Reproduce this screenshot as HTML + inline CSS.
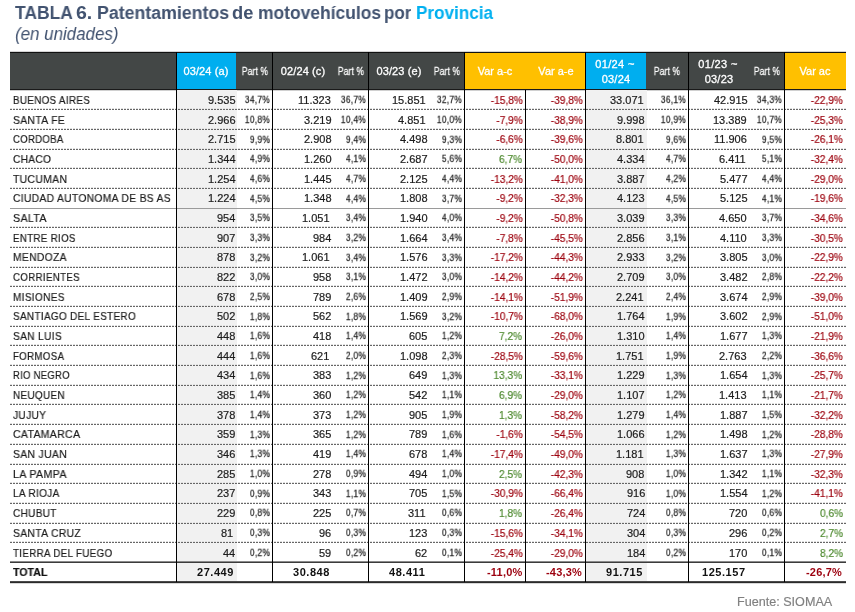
<!DOCTYPE html>
<html><head><meta charset="utf-8"><style>
html,body{margin:0;padding:0;background:#fff;width:855px;height:612px;overflow:hidden;position:relative}
.b{position:absolute}
.t{position:absolute;will-change:transform;white-space:nowrap;font-family:"Liberation Sans",sans-serif}
</style></head><body>
<div class="b" style="left:10px;top:52px;width:836px;height:38px;background:#434746;"></div>
<div class="b" style="left:177px;top:53px;width:59px;height:36px;background:#00aeef;"></div>
<div class="b" style="left:586px;top:53px;width:60px;height:36px;background:#00aeef;"></div>
<div class="b" style="left:465px;top:53px;width:120px;height:36px;background:#ffc000;"></div>
<div class="b" style="left:785px;top:53px;width:61px;height:36px;background:#ffc000;"></div>
<div class="b" style="left:10px;top:52px;width:836px;height:1px;background:#111;"></div>
<div class="b" style="left:10px;top:89px;width:836px;height:1px;background:#1a1a1a;"></div>
<div class="b" style="left:10px;top:51px;width:836px;height:1px;background:#d4d4d4;"></div>
<div class="b" style="left:10px;top:90px;width:836px;height:1px;background:#d0d0d0;"></div>
<div class="b" style="left:177px;top:90px;width:60px;height:491px;background:#f1f1f1;"></div>
<div class="b" style="left:586px;top:90px;width:61px;height:491px;background:#f1f1f1;"></div>
<div class="b" style="left:10px;top:109px;width:836px;height:1px;background:repeating-linear-gradient(90deg,#666 0 1.7px,transparent 1.7px 3px);"></div>
<div class="b" style="left:10px;top:108px;width:836px;height:1px;background:repeating-linear-gradient(90deg,#e0e0e0 0 1.7px,transparent 1.7px 3px);"></div>
<div class="b" style="left:10px;top:129px;width:836px;height:1px;background:repeating-linear-gradient(90deg,#666 0 1.7px,transparent 1.7px 3px);"></div>
<div class="b" style="left:10px;top:128px;width:836px;height:1px;background:repeating-linear-gradient(90deg,#e0e0e0 0 1.7px,transparent 1.7px 3px);"></div>
<div class="b" style="left:10px;top:149px;width:836px;height:1px;background:repeating-linear-gradient(90deg,#666 0 1.7px,transparent 1.7px 3px);"></div>
<div class="b" style="left:10px;top:148px;width:836px;height:1px;background:repeating-linear-gradient(90deg,#e0e0e0 0 1.7px,transparent 1.7px 3px);"></div>
<div class="b" style="left:10px;top:168px;width:836px;height:1px;background:repeating-linear-gradient(90deg,#666 0 1.7px,transparent 1.7px 3px);"></div>
<div class="b" style="left:10px;top:167px;width:836px;height:1px;background:repeating-linear-gradient(90deg,#e0e0e0 0 1.7px,transparent 1.7px 3px);"></div>
<div class="b" style="left:10px;top:188px;width:836px;height:1px;background:repeating-linear-gradient(90deg,#666 0 1.7px,transparent 1.7px 3px);"></div>
<div class="b" style="left:10px;top:187px;width:836px;height:1px;background:repeating-linear-gradient(90deg,#e0e0e0 0 1.7px,transparent 1.7px 3px);"></div>
<div class="b" style="left:10px;top:208px;width:836px;height:1px;background:#9a9a9a;"></div>
<div class="b" style="left:10px;top:227px;width:836px;height:1px;background:repeating-linear-gradient(90deg,#666 0 1.7px,transparent 1.7px 3px);"></div>
<div class="b" style="left:10px;top:226px;width:836px;height:1px;background:repeating-linear-gradient(90deg,#e0e0e0 0 1.7px,transparent 1.7px 3px);"></div>
<div class="b" style="left:10px;top:247px;width:836px;height:1px;background:repeating-linear-gradient(90deg,#666 0 1.7px,transparent 1.7px 3px);"></div>
<div class="b" style="left:10px;top:246px;width:836px;height:1px;background:repeating-linear-gradient(90deg,#e0e0e0 0 1.7px,transparent 1.7px 3px);"></div>
<div class="b" style="left:10px;top:267px;width:836px;height:1px;background:repeating-linear-gradient(90deg,#666 0 1.7px,transparent 1.7px 3px);"></div>
<div class="b" style="left:10px;top:266px;width:836px;height:1px;background:repeating-linear-gradient(90deg,#e0e0e0 0 1.7px,transparent 1.7px 3px);"></div>
<div class="b" style="left:10px;top:286px;width:836px;height:1px;background:repeating-linear-gradient(90deg,#666 0 1.7px,transparent 1.7px 3px);"></div>
<div class="b" style="left:10px;top:285px;width:836px;height:1px;background:repeating-linear-gradient(90deg,#e0e0e0 0 1.7px,transparent 1.7px 3px);"></div>
<div class="b" style="left:10px;top:306px;width:836px;height:1px;background:repeating-linear-gradient(90deg,#666 0 1.7px,transparent 1.7px 3px);"></div>
<div class="b" style="left:10px;top:305px;width:836px;height:1px;background:repeating-linear-gradient(90deg,#e0e0e0 0 1.7px,transparent 1.7px 3px);"></div>
<div class="b" style="left:10px;top:326px;width:836px;height:1px;background:repeating-linear-gradient(90deg,#666 0 1.7px,transparent 1.7px 3px);"></div>
<div class="b" style="left:10px;top:325px;width:836px;height:1px;background:repeating-linear-gradient(90deg,#e0e0e0 0 1.7px,transparent 1.7px 3px);"></div>
<div class="b" style="left:10px;top:345px;width:836px;height:1px;background:repeating-linear-gradient(90deg,#666 0 1.7px,transparent 1.7px 3px);"></div>
<div class="b" style="left:10px;top:344px;width:836px;height:1px;background:repeating-linear-gradient(90deg,#e0e0e0 0 1.7px,transparent 1.7px 3px);"></div>
<div class="b" style="left:10px;top:365px;width:836px;height:1px;background:repeating-linear-gradient(90deg,#666 0 1.7px,transparent 1.7px 3px);"></div>
<div class="b" style="left:10px;top:364px;width:836px;height:1px;background:repeating-linear-gradient(90deg,#e0e0e0 0 1.7px,transparent 1.7px 3px);"></div>
<div class="b" style="left:10px;top:385px;width:836px;height:1px;background:repeating-linear-gradient(90deg,#666 0 1.7px,transparent 1.7px 3px);"></div>
<div class="b" style="left:10px;top:384px;width:836px;height:1px;background:repeating-linear-gradient(90deg,#e0e0e0 0 1.7px,transparent 1.7px 3px);"></div>
<div class="b" style="left:10px;top:404px;width:836px;height:1px;background:repeating-linear-gradient(90deg,#666 0 1.7px,transparent 1.7px 3px);"></div>
<div class="b" style="left:10px;top:403px;width:836px;height:1px;background:repeating-linear-gradient(90deg,#e0e0e0 0 1.7px,transparent 1.7px 3px);"></div>
<div class="b" style="left:10px;top:424px;width:836px;height:1px;background:repeating-linear-gradient(90deg,#666 0 1.7px,transparent 1.7px 3px);"></div>
<div class="b" style="left:10px;top:423px;width:836px;height:1px;background:repeating-linear-gradient(90deg,#e0e0e0 0 1.7px,transparent 1.7px 3px);"></div>
<div class="b" style="left:10px;top:444px;width:836px;height:1px;background:repeating-linear-gradient(90deg,#666 0 1.7px,transparent 1.7px 3px);"></div>
<div class="b" style="left:10px;top:443px;width:836px;height:1px;background:repeating-linear-gradient(90deg,#e0e0e0 0 1.7px,transparent 1.7px 3px);"></div>
<div class="b" style="left:10px;top:464px;width:836px;height:1px;background:repeating-linear-gradient(90deg,#666 0 1.7px,transparent 1.7px 3px);"></div>
<div class="b" style="left:10px;top:463px;width:836px;height:1px;background:repeating-linear-gradient(90deg,#e0e0e0 0 1.7px,transparent 1.7px 3px);"></div>
<div class="b" style="left:10px;top:483px;width:836px;height:1px;background:repeating-linear-gradient(90deg,#666 0 1.7px,transparent 1.7px 3px);"></div>
<div class="b" style="left:10px;top:482px;width:836px;height:1px;background:repeating-linear-gradient(90deg,#e0e0e0 0 1.7px,transparent 1.7px 3px);"></div>
<div class="b" style="left:10px;top:503px;width:836px;height:1px;background:repeating-linear-gradient(90deg,#666 0 1.7px,transparent 1.7px 3px);"></div>
<div class="b" style="left:10px;top:502px;width:836px;height:1px;background:repeating-linear-gradient(90deg,#e0e0e0 0 1.7px,transparent 1.7px 3px);"></div>
<div class="b" style="left:10px;top:523px;width:836px;height:1px;background:repeating-linear-gradient(90deg,#666 0 1.7px,transparent 1.7px 3px);"></div>
<div class="b" style="left:10px;top:522px;width:836px;height:1px;background:repeating-linear-gradient(90deg,#e0e0e0 0 1.7px,transparent 1.7px 3px);"></div>
<div class="b" style="left:10px;top:542px;width:836px;height:1px;background:repeating-linear-gradient(90deg,#666 0 1.7px,transparent 1.7px 3px);"></div>
<div class="b" style="left:10px;top:541px;width:836px;height:1px;background:repeating-linear-gradient(90deg,#e0e0e0 0 1.7px,transparent 1.7px 3px);"></div>
<div class="b" style="left:10px;top:561px;width:836px;height:1px;background:#8a8a8a;"></div>
<div class="b" style="left:10px;top:562px;width:836px;height:1px;background:#3c3c3c;"></div>
<div class="b" style="left:10px;top:581px;width:836px;height:1px;background:#4a4a4a;"></div>
<div class="b" style="left:10px;top:582px;width:836px;height:1px;background:#2a2a2a;"></div>
<div class="b" style="left:10px;top:583px;width:836px;height:1px;background:#d8d8d8;"></div>
<div class="b" style="left:176px;top:52px;width:1px;height:530px;background:#000;"></div>
<div class="b" style="left:272px;top:52px;width:1px;height:530px;background:#000;"></div>
<div class="b" style="left:368px;top:52px;width:1px;height:530px;background:#000;"></div>
<div class="b" style="left:464px;top:52px;width:1px;height:530px;background:#000;"></div>
<div class="b" style="left:585px;top:52px;width:1px;height:530px;background:#000;"></div>
<div class="b" style="left:688px;top:52px;width:1px;height:530px;background:#000;"></div>
<div class="b" style="left:784px;top:52px;width:1px;height:530px;background:#000;"></div>
<div class="b" style="left:525px;top:90px;width:1px;height:492px;background:#000;"></div>
<div class="t" style="left:15.2px;top:3.11px;font-size:18px;line-height:20.70px;color:#425370;font-weight:bold;font-style:normal;letter-spacing:0px;transform:scaleX(0.968);transform-origin:left 0;">TABLA</div>
<div class="t" style="left:76.415px;top:3.11px;font-size:18px;line-height:20.70px;color:#425370;font-weight:bold;font-style:normal;letter-spacing:0px;transform:scaleX(1.085);transform-origin:left 0;">6.</div>
<div class="t" style="left:97.014px;top:3.11px;font-size:18px;line-height:20.70px;color:#425370;font-weight:bold;font-style:normal;letter-spacing:0px;transform:scaleX(0.986);transform-origin:left 0;">Patentamientos</div>
<div class="t" style="left:232.484px;top:3.11px;font-size:18px;line-height:20.70px;color:#425370;font-weight:bold;font-style:normal;letter-spacing:0px;transform:scaleX(1.016);transform-origin:left 0;">de</div>
<div class="t" style="left:257.531px;top:3.11px;font-size:18px;line-height:20.70px;color:#425370;font-weight:bold;font-style:normal;letter-spacing:0px;transform:scaleX(0.969);transform-origin:left 0;">motovehículos</div>
<div class="t" style="left:383.957px;top:3.11px;font-size:18px;line-height:20.70px;color:#425370;font-weight:bold;font-style:normal;letter-spacing:0px;transform:scaleX(0.943);transform-origin:left 0;">por</div>
<div class="t" style="left:415.649px;top:3.11px;font-size:18px;line-height:20.70px;color:#00b0f0;font-weight:bold;font-style:normal;letter-spacing:0px;transform:scaleX(0.951);transform-origin:left 0;">Provincia</div>
<div class="t" style="left:15px;top:22.3px;font-size:18.6px;font-style:italic;color:#425370;line-height:24px;transform:scaleX(0.91);transform-origin:left 0">(en unidades)</div>
<div class="t" style="left:6.199999999999989px;width:400px;text-align:center;top:65.36px;font-size:11px;line-height:12.65px;color:#ffffff;font-weight:normal;font-style:normal;letter-spacing:0.1px;-webkit-text-stroke:0.3px #ffffff;">03/24 (a)</div>
<div class="t" style="left:54.599999999999994px;width:400px;text-align:center;top:66.28px;font-size:10px;line-height:11.50px;color:#ffffff;font-weight:normal;font-style:normal;letter-spacing:0.25px;transform:scaleX(0.835);transform-origin:center 0;-webkit-text-stroke:0.3px #ffffff;">Part %</div>
<div class="t" style="left:102.5px;width:400px;text-align:center;top:65.36px;font-size:11px;line-height:12.65px;color:#ffffff;font-weight:normal;font-style:normal;letter-spacing:0.1px;-webkit-text-stroke:0.3px #ffffff;">02/24 (c)</div>
<div class="t" style="left:150.60000000000002px;width:400px;text-align:center;top:66.28px;font-size:10px;line-height:11.50px;color:#ffffff;font-weight:normal;font-style:normal;letter-spacing:0.25px;transform:scaleX(0.835);transform-origin:center 0;-webkit-text-stroke:0.3px #ffffff;">Part %</div>
<div class="t" style="left:198.5px;width:400px;text-align:center;top:65.36px;font-size:11px;line-height:12.65px;color:#ffffff;font-weight:normal;font-style:normal;letter-spacing:0.1px;-webkit-text-stroke:0.3px #ffffff;">03/23 (e)</div>
<div class="t" style="left:246.60000000000002px;width:400px;text-align:center;top:66.28px;font-size:10px;line-height:11.50px;color:#ffffff;font-weight:normal;font-style:normal;letter-spacing:0.25px;transform:scaleX(0.835);transform-origin:center 0;-webkit-text-stroke:0.3px #ffffff;">Part %</div>
<div class="t" style="left:294.6px;width:400px;text-align:center;top:65.36px;font-size:11px;line-height:12.65px;color:#ffffff;font-weight:normal;font-style:normal;letter-spacing:0px;-webkit-text-stroke:0.3px #ffffff;">Var a-c</div>
<div class="t" style="left:355.5px;width:400px;text-align:center;top:65.36px;font-size:11px;line-height:12.65px;color:#ffffff;font-weight:normal;font-style:normal;letter-spacing:0px;-webkit-text-stroke:0.3px #ffffff;">Var a-e</div>
<div class="t" style="left:415.20000000000005px;width:400px;text-align:center;top:57.76px;font-size:11px;line-height:12.65px;color:#ffffff;font-weight:normal;font-style:normal;letter-spacing:0.35px;-webkit-text-stroke:0.3px #ffffff;">01/24 ~</div>
<div class="t" style="left:415.70000000000005px;width:400px;text-align:center;top:72.76px;font-size:11px;line-height:12.65px;color:#ffffff;font-weight:normal;font-style:normal;letter-spacing:0.2px;-webkit-text-stroke:0.3px #ffffff;">03/24</div>
<div class="t" style="left:466.5px;width:400px;text-align:center;top:66.28px;font-size:10px;line-height:11.50px;color:#ffffff;font-weight:normal;font-style:normal;letter-spacing:0.25px;transform:scaleX(0.835);transform-origin:center 0;-webkit-text-stroke:0.3px #ffffff;">Part %</div>
<div class="t" style="left:518.2px;width:400px;text-align:center;top:57.76px;font-size:11px;line-height:12.65px;color:#ffffff;font-weight:normal;font-style:normal;letter-spacing:0.35px;-webkit-text-stroke:0.3px #ffffff;">01/23 ~</div>
<div class="t" style="left:518.5px;width:400px;text-align:center;top:72.76px;font-size:11px;line-height:12.65px;color:#ffffff;font-weight:normal;font-style:normal;letter-spacing:0.2px;-webkit-text-stroke:0.3px #ffffff;">03/23</div>
<div class="t" style="left:566.6px;width:400px;text-align:center;top:66.28px;font-size:10px;line-height:11.50px;color:#ffffff;font-weight:normal;font-style:normal;letter-spacing:0.25px;transform:scaleX(0.835);transform-origin:center 0;-webkit-text-stroke:0.3px #ffffff;">Part %</div>
<div class="t" style="left:614.8px;width:400px;text-align:center;top:65.36px;font-size:11px;line-height:12.65px;color:#ffffff;font-weight:normal;font-style:normal;letter-spacing:0px;-webkit-text-stroke:0.3px #ffffff;">Var ac</div>
<div class="t" style="left:12.7px;top:93.86px;font-size:11px;line-height:12.65px;color:#1c1c1c;font-weight:normal;font-style:normal;letter-spacing:0.35px;transform:scaleX(0.895);transform-origin:left 0;-webkit-text-stroke:0.2px #1c1c1c;">BUENOS AIRES</div>
<div class="t" style="right:619.78px;top:93.86px;font-size:11px;line-height:12.65px;color:#1c1c1c;font-weight:normal;font-style:normal;letter-spacing:0px;-webkit-text-stroke:0.2px #1c1c1c;">9.535</div>
<div class="t" style="right:584.9px;top:94.19px;font-size:10px;line-height:11.50px;color:#1c1c1c;font-weight:normal;font-style:normal;letter-spacing:0.35px;transform:scale(0.84,0.92);transform-origin:right 9.21px;-webkit-text-stroke:0.25px #1c1c1c;">34,7%</div>
<div class="t" style="right:523.78px;top:93.86px;font-size:11px;line-height:12.65px;color:#1c1c1c;font-weight:normal;font-style:normal;letter-spacing:0px;-webkit-text-stroke:0.2px #1c1c1c;">11.323</div>
<div class="t" style="right:488.9px;top:94.19px;font-size:10px;line-height:11.50px;color:#1c1c1c;font-weight:normal;font-style:normal;letter-spacing:0.35px;transform:scale(0.84,0.92);transform-origin:right 9.21px;-webkit-text-stroke:0.25px #1c1c1c;">36,7%</div>
<div class="t" style="right:429.17999999999995px;top:93.86px;font-size:11px;line-height:12.65px;color:#1c1c1c;font-weight:normal;font-style:normal;letter-spacing:0px;-webkit-text-stroke:0.2px #1c1c1c;">15.851</div>
<div class="t" style="right:392.9px;top:94.19px;font-size:10px;line-height:11.50px;color:#1c1c1c;font-weight:normal;font-style:normal;letter-spacing:0.35px;transform:scale(0.84,0.92);transform-origin:right 9.21px;-webkit-text-stroke:0.25px #1c1c1c;">32,7%</div>
<div class="t" style="right:332.6px;top:93.86px;font-size:11px;line-height:12.65px;color:#9c000e;font-weight:normal;font-style:normal;letter-spacing:0px;transform:scaleX(0.92);transform-origin:right 0;-webkit-text-stroke:0.2px #9c000e;">-15,8%</div>
<div class="t" style="right:271.79999999999995px;top:93.86px;font-size:11px;line-height:12.65px;color:#9c000e;font-weight:normal;font-style:normal;letter-spacing:0px;transform:scaleX(0.92);transform-origin:right 0;-webkit-text-stroke:0.2px #9c000e;">-39,8%</div>
<div class="t" style="right:211.83000000000004px;top:93.86px;font-size:11px;line-height:12.65px;color:#1c1c1c;font-weight:normal;font-style:normal;letter-spacing:0px;-webkit-text-stroke:0.2px #1c1c1c;">33.071</div>
<div class="t" style="right:168.5px;top:94.19px;font-size:10px;line-height:11.50px;color:#1c1c1c;font-weight:normal;font-style:normal;letter-spacing:0.35px;transform:scale(0.84,0.92);transform-origin:right 9.21px;-webkit-text-stroke:0.25px #1c1c1c;">36,1%</div>
<div class="t" style="right:107.77999999999997px;top:93.86px;font-size:11px;line-height:12.65px;color:#1c1c1c;font-weight:normal;font-style:normal;letter-spacing:0px;-webkit-text-stroke:0.2px #1c1c1c;">42.915</div>
<div class="t" style="right:72.5px;top:94.19px;font-size:10px;line-height:11.50px;color:#1c1c1c;font-weight:normal;font-style:normal;letter-spacing:0.35px;transform:scale(0.84,0.92);transform-origin:right 9.21px;-webkit-text-stroke:0.25px #1c1c1c;">34,3%</div>
<div class="t" style="right:11.799999999999955px;top:93.86px;font-size:11px;line-height:12.65px;color:#9c000e;font-weight:normal;font-style:normal;letter-spacing:0px;transform:scaleX(0.92);transform-origin:right 0;-webkit-text-stroke:0.2px #9c000e;">-22,9%</div>
<div class="t" style="left:12.7px;top:113.54px;font-size:11px;line-height:12.65px;color:#1c1c1c;font-weight:normal;font-style:normal;letter-spacing:0.35px;transform:scaleX(0.942);transform-origin:left 0;-webkit-text-stroke:0.2px #1c1c1c;">SANTA FE</div>
<div class="t" style="right:619.85px;top:113.54px;font-size:11px;line-height:12.65px;color:#1c1c1c;font-weight:normal;font-style:normal;letter-spacing:0px;-webkit-text-stroke:0.2px #1c1c1c;">2.966</div>
<div class="t" style="right:584.9px;top:113.87px;font-size:10px;line-height:11.50px;color:#1c1c1c;font-weight:normal;font-style:normal;letter-spacing:0.35px;transform:scale(0.84,0.92);transform-origin:right 9.21px;-webkit-text-stroke:0.25px #1c1c1c;">10,8%</div>
<div class="t" style="right:523.76px;top:113.54px;font-size:11px;line-height:12.65px;color:#1c1c1c;font-weight:normal;font-style:normal;letter-spacing:0px;-webkit-text-stroke:0.2px #1c1c1c;">3.219</div>
<div class="t" style="right:488.9px;top:113.87px;font-size:10px;line-height:11.50px;color:#1c1c1c;font-weight:normal;font-style:normal;letter-spacing:0.35px;transform:scale(0.84,0.92);transform-origin:right 9.21px;-webkit-text-stroke:0.25px #1c1c1c;">10,4%</div>
<div class="t" style="right:429.17999999999995px;top:113.54px;font-size:11px;line-height:12.65px;color:#1c1c1c;font-weight:normal;font-style:normal;letter-spacing:0px;-webkit-text-stroke:0.2px #1c1c1c;">4.851</div>
<div class="t" style="right:392.9px;top:113.87px;font-size:10px;line-height:11.50px;color:#1c1c1c;font-weight:normal;font-style:normal;letter-spacing:0.35px;transform:scale(0.84,0.92);transform-origin:right 9.21px;-webkit-text-stroke:0.25px #1c1c1c;">10,0%</div>
<div class="t" style="right:332.6px;top:113.54px;font-size:11px;line-height:12.65px;color:#9c000e;font-weight:normal;font-style:normal;letter-spacing:0px;transform:scaleX(0.92);transform-origin:right 0;-webkit-text-stroke:0.2px #9c000e;">-7,9%</div>
<div class="t" style="right:271.79999999999995px;top:113.54px;font-size:11px;line-height:12.65px;color:#9c000e;font-weight:normal;font-style:normal;letter-spacing:0px;transform:scaleX(0.92);transform-origin:right 0;-webkit-text-stroke:0.2px #9c000e;">-38,9%</div>
<div class="t" style="right:210.22000000000003px;top:113.54px;font-size:11px;line-height:12.65px;color:#1c1c1c;font-weight:normal;font-style:normal;letter-spacing:0px;-webkit-text-stroke:0.2px #1c1c1c;">9.998</div>
<div class="t" style="right:168.5px;top:113.87px;font-size:10px;line-height:11.50px;color:#1c1c1c;font-weight:normal;font-style:normal;letter-spacing:0.35px;transform:scale(0.84,0.92);transform-origin:right 9.21px;-webkit-text-stroke:0.25px #1c1c1c;">10,9%</div>
<div class="t" style="right:108.00999999999999px;top:113.54px;font-size:11px;line-height:12.65px;color:#1c1c1c;font-weight:normal;font-style:normal;letter-spacing:0px;-webkit-text-stroke:0.2px #1c1c1c;">13.389</div>
<div class="t" style="right:72.5px;top:113.87px;font-size:10px;line-height:11.50px;color:#1c1c1c;font-weight:normal;font-style:normal;letter-spacing:0.35px;transform:scale(0.84,0.92);transform-origin:right 9.21px;-webkit-text-stroke:0.25px #1c1c1c;">10,7%</div>
<div class="t" style="right:11.799999999999955px;top:113.54px;font-size:11px;line-height:12.65px;color:#9c000e;font-weight:normal;font-style:normal;letter-spacing:0px;transform:scaleX(0.92);transform-origin:right 0;-webkit-text-stroke:0.2px #9c000e;">-25,3%</div>
<div class="t" style="left:12.7px;top:133.22px;font-size:11px;line-height:12.65px;color:#1c1c1c;font-weight:normal;font-style:normal;letter-spacing:0.35px;transform:scaleX(0.869);transform-origin:left 0;-webkit-text-stroke:0.2px #1c1c1c;">CORDOBA</div>
<div class="t" style="right:619.78px;top:133.22px;font-size:11px;line-height:12.65px;color:#1c1c1c;font-weight:normal;font-style:normal;letter-spacing:0px;-webkit-text-stroke:0.2px #1c1c1c;">2.715</div>
<div class="t" style="right:584.9px;top:133.55px;font-size:10px;line-height:11.50px;color:#1c1c1c;font-weight:normal;font-style:normal;letter-spacing:0.35px;transform:scale(0.84,0.92);transform-origin:right 9.21px;-webkit-text-stroke:0.25px #1c1c1c;">9,9%</div>
<div class="t" style="right:523.6700000000001px;top:133.22px;font-size:11px;line-height:12.65px;color:#1c1c1c;font-weight:normal;font-style:normal;letter-spacing:0px;-webkit-text-stroke:0.2px #1c1c1c;">2.908</div>
<div class="t" style="right:488.9px;top:133.55px;font-size:10px;line-height:11.50px;color:#1c1c1c;font-weight:normal;font-style:normal;letter-spacing:0.35px;transform:scale(0.84,0.92);transform-origin:right 9.21px;-webkit-text-stroke:0.25px #1c1c1c;">9,4%</div>
<div class="t" style="right:427.57px;top:133.22px;font-size:11px;line-height:12.65px;color:#1c1c1c;font-weight:normal;font-style:normal;letter-spacing:0px;-webkit-text-stroke:0.2px #1c1c1c;">4.498</div>
<div class="t" style="right:392.9px;top:133.55px;font-size:10px;line-height:11.50px;color:#1c1c1c;font-weight:normal;font-style:normal;letter-spacing:0.35px;transform:scale(0.84,0.92);transform-origin:right 9.21px;-webkit-text-stroke:0.25px #1c1c1c;">9,3%</div>
<div class="t" style="right:332.6px;top:133.22px;font-size:11px;line-height:12.65px;color:#9c000e;font-weight:normal;font-style:normal;letter-spacing:0px;transform:scaleX(0.92);transform-origin:right 0;-webkit-text-stroke:0.2px #9c000e;">-6,6%</div>
<div class="t" style="right:271.79999999999995px;top:133.22px;font-size:11px;line-height:12.65px;color:#9c000e;font-weight:normal;font-style:normal;letter-spacing:0px;transform:scaleX(0.92);transform-origin:right 0;-webkit-text-stroke:0.2px #9c000e;">-39,6%</div>
<div class="t" style="right:211.83000000000004px;top:133.22px;font-size:11px;line-height:12.65px;color:#1c1c1c;font-weight:normal;font-style:normal;letter-spacing:0px;-webkit-text-stroke:0.2px #1c1c1c;">8.801</div>
<div class="t" style="right:168.5px;top:133.55px;font-size:10px;line-height:11.50px;color:#1c1c1c;font-weight:normal;font-style:normal;letter-spacing:0.35px;transform:scale(0.84,0.92);transform-origin:right 9.21px;-webkit-text-stroke:0.25px #1c1c1c;">9,6%</div>
<div class="t" style="right:107.84999999999991px;top:133.22px;font-size:11px;line-height:12.65px;color:#1c1c1c;font-weight:normal;font-style:normal;letter-spacing:0px;-webkit-text-stroke:0.2px #1c1c1c;">11.906</div>
<div class="t" style="right:72.5px;top:133.55px;font-size:10px;line-height:11.50px;color:#1c1c1c;font-weight:normal;font-style:normal;letter-spacing:0.35px;transform:scale(0.84,0.92);transform-origin:right 9.21px;-webkit-text-stroke:0.25px #1c1c1c;">9,5%</div>
<div class="t" style="right:11.799999999999955px;top:133.22px;font-size:11px;line-height:12.65px;color:#9c000e;font-weight:normal;font-style:normal;letter-spacing:0px;transform:scaleX(0.92);transform-origin:right 0;-webkit-text-stroke:0.2px #9c000e;">-26,1%</div>
<div class="t" style="left:12.7px;top:152.90px;font-size:11px;line-height:12.65px;color:#1c1c1c;font-weight:normal;font-style:normal;letter-spacing:0.35px;transform:scaleX(0.924);transform-origin:left 0;-webkit-text-stroke:0.2px #1c1c1c;">CHACO</div>
<div class="t" style="right:619.73px;top:152.90px;font-size:11px;line-height:12.65px;color:#1c1c1c;font-weight:normal;font-style:normal;letter-spacing:0px;-webkit-text-stroke:0.2px #1c1c1c;">1.344</div>
<div class="t" style="right:584.9px;top:153.22px;font-size:10px;line-height:11.50px;color:#1c1c1c;font-weight:normal;font-style:normal;letter-spacing:0.35px;transform:scale(0.84,0.92);transform-origin:right 9.21px;-webkit-text-stroke:0.25px #1c1c1c;">4,9%</div>
<div class="t" style="right:523.74px;top:152.90px;font-size:11px;line-height:12.65px;color:#1c1c1c;font-weight:normal;font-style:normal;letter-spacing:0px;-webkit-text-stroke:0.2px #1c1c1c;">1.260</div>
<div class="t" style="right:488.9px;top:153.22px;font-size:10px;line-height:11.50px;color:#1c1c1c;font-weight:normal;font-style:normal;letter-spacing:0.35px;transform:scale(0.84,0.92);transform-origin:right 9.21px;-webkit-text-stroke:0.25px #1c1c1c;">4,1%</div>
<div class="t" style="right:427.38px;top:152.90px;font-size:11px;line-height:12.65px;color:#1c1c1c;font-weight:normal;font-style:normal;letter-spacing:0px;-webkit-text-stroke:0.2px #1c1c1c;">2.687</div>
<div class="t" style="right:392.9px;top:153.22px;font-size:10px;line-height:11.50px;color:#1c1c1c;font-weight:normal;font-style:normal;letter-spacing:0.35px;transform:scale(0.84,0.92);transform-origin:right 9.21px;-webkit-text-stroke:0.25px #1c1c1c;">5,6%</div>
<div class="t" style="right:332.6px;top:152.90px;font-size:11px;line-height:12.65px;color:#4f8a30;font-weight:normal;font-style:normal;letter-spacing:0px;transform:scaleX(0.92);transform-origin:right 0;-webkit-text-stroke:0.2px #4f8a30;">6,7%</div>
<div class="t" style="right:271.79999999999995px;top:152.90px;font-size:11px;line-height:12.65px;color:#9c000e;font-weight:normal;font-style:normal;letter-spacing:0px;transform:scaleX(0.92);transform-origin:right 0;-webkit-text-stroke:0.2px #9c000e;">-50,0%</div>
<div class="t" style="right:210.02999999999997px;top:152.90px;font-size:11px;line-height:12.65px;color:#1c1c1c;font-weight:normal;font-style:normal;letter-spacing:0px;-webkit-text-stroke:0.2px #1c1c1c;">4.334</div>
<div class="t" style="right:168.5px;top:153.22px;font-size:10px;line-height:11.50px;color:#1c1c1c;font-weight:normal;font-style:normal;letter-spacing:0.35px;transform:scale(0.84,0.92);transform-origin:right 9.21px;-webkit-text-stroke:0.25px #1c1c1c;">4,7%</div>
<div class="t" style="right:109.52999999999997px;top:152.90px;font-size:11px;line-height:12.65px;color:#1c1c1c;font-weight:normal;font-style:normal;letter-spacing:0px;-webkit-text-stroke:0.2px #1c1c1c;">6.411</div>
<div class="t" style="right:72.5px;top:153.22px;font-size:10px;line-height:11.50px;color:#1c1c1c;font-weight:normal;font-style:normal;letter-spacing:0.35px;transform:scale(0.84,0.92);transform-origin:right 9.21px;-webkit-text-stroke:0.25px #1c1c1c;">5,1%</div>
<div class="t" style="right:11.799999999999955px;top:152.90px;font-size:11px;line-height:12.65px;color:#9c000e;font-weight:normal;font-style:normal;letter-spacing:0px;transform:scaleX(0.92);transform-origin:right 0;-webkit-text-stroke:0.2px #9c000e;">-32,4%</div>
<div class="t" style="left:12.7px;top:172.58px;font-size:11px;line-height:12.65px;color:#1c1c1c;font-weight:normal;font-style:normal;letter-spacing:0.35px;transform:scaleX(0.944);transform-origin:left 0;-webkit-text-stroke:0.2px #1c1c1c;">TUCUMAN</div>
<div class="t" style="right:619.73px;top:172.58px;font-size:11px;line-height:12.65px;color:#1c1c1c;font-weight:normal;font-style:normal;letter-spacing:0px;-webkit-text-stroke:0.2px #1c1c1c;">1.254</div>
<div class="t" style="right:584.9px;top:172.91px;font-size:10px;line-height:11.50px;color:#1c1c1c;font-weight:normal;font-style:normal;letter-spacing:0.35px;transform:scale(0.84,0.92);transform-origin:right 9.21px;-webkit-text-stroke:0.25px #1c1c1c;">4,6%</div>
<div class="t" style="right:523.53px;top:172.58px;font-size:11px;line-height:12.65px;color:#1c1c1c;font-weight:normal;font-style:normal;letter-spacing:0px;-webkit-text-stroke:0.2px #1c1c1c;">1.445</div>
<div class="t" style="right:488.9px;top:172.91px;font-size:10px;line-height:11.50px;color:#1c1c1c;font-weight:normal;font-style:normal;letter-spacing:0.35px;transform:scale(0.84,0.92);transform-origin:right 9.21px;-webkit-text-stroke:0.25px #1c1c1c;">4,7%</div>
<div class="t" style="right:427.43px;top:172.58px;font-size:11px;line-height:12.65px;color:#1c1c1c;font-weight:normal;font-style:normal;letter-spacing:0px;-webkit-text-stroke:0.2px #1c1c1c;">2.125</div>
<div class="t" style="right:392.9px;top:172.91px;font-size:10px;line-height:11.50px;color:#1c1c1c;font-weight:normal;font-style:normal;letter-spacing:0.35px;transform:scale(0.84,0.92);transform-origin:right 9.21px;-webkit-text-stroke:0.25px #1c1c1c;">4,4%</div>
<div class="t" style="right:332.6px;top:172.58px;font-size:11px;line-height:12.65px;color:#9c000e;font-weight:normal;font-style:normal;letter-spacing:0px;transform:scaleX(0.92);transform-origin:right 0;-webkit-text-stroke:0.2px #9c000e;">-13,2%</div>
<div class="t" style="right:271.79999999999995px;top:172.58px;font-size:11px;line-height:12.65px;color:#9c000e;font-weight:normal;font-style:normal;letter-spacing:0px;transform:scaleX(0.92);transform-origin:right 0;-webkit-text-stroke:0.2px #9c000e;">-41,0%</div>
<div class="t" style="right:210.0300000000001px;top:172.58px;font-size:11px;line-height:12.65px;color:#1c1c1c;font-weight:normal;font-style:normal;letter-spacing:0px;-webkit-text-stroke:0.2px #1c1c1c;">3.887</div>
<div class="t" style="right:168.5px;top:172.91px;font-size:10px;line-height:11.50px;color:#1c1c1c;font-weight:normal;font-style:normal;letter-spacing:0.35px;transform:scale(0.84,0.92);transform-origin:right 9.21px;-webkit-text-stroke:0.25px #1c1c1c;">4,2%</div>
<div class="t" style="right:107.73000000000002px;top:172.58px;font-size:11px;line-height:12.65px;color:#1c1c1c;font-weight:normal;font-style:normal;letter-spacing:0px;-webkit-text-stroke:0.2px #1c1c1c;">5.477</div>
<div class="t" style="right:72.5px;top:172.91px;font-size:10px;line-height:11.50px;color:#1c1c1c;font-weight:normal;font-style:normal;letter-spacing:0.35px;transform:scale(0.84,0.92);transform-origin:right 9.21px;-webkit-text-stroke:0.25px #1c1c1c;">4,4%</div>
<div class="t" style="right:11.799999999999955px;top:172.58px;font-size:11px;line-height:12.65px;color:#9c000e;font-weight:normal;font-style:normal;letter-spacing:0px;transform:scaleX(0.92);transform-origin:right 0;-webkit-text-stroke:0.2px #9c000e;">-29,0%</div>
<div class="t" style="left:12.7px;top:192.26px;font-size:11px;line-height:12.65px;color:#1c1c1c;font-weight:normal;font-style:normal;letter-spacing:0.35px;transform:scaleX(0.935);transform-origin:left 0;-webkit-text-stroke:0.2px #1c1c1c;">CIUDAD AUTONOMA DE BS AS</div>
<div class="t" style="right:619.73px;top:192.26px;font-size:11px;line-height:12.65px;color:#1c1c1c;font-weight:normal;font-style:normal;letter-spacing:0px;-webkit-text-stroke:0.2px #1c1c1c;">1.224</div>
<div class="t" style="right:584.9px;top:192.59px;font-size:10px;line-height:11.50px;color:#1c1c1c;font-weight:normal;font-style:normal;letter-spacing:0.35px;transform:scale(0.84,0.92);transform-origin:right 9.21px;-webkit-text-stroke:0.25px #1c1c1c;">4,5%</div>
<div class="t" style="right:523.6700000000001px;top:192.26px;font-size:11px;line-height:12.65px;color:#1c1c1c;font-weight:normal;font-style:normal;letter-spacing:0px;-webkit-text-stroke:0.2px #1c1c1c;">1.348</div>
<div class="t" style="right:488.9px;top:192.59px;font-size:10px;line-height:11.50px;color:#1c1c1c;font-weight:normal;font-style:normal;letter-spacing:0.35px;transform:scale(0.84,0.92);transform-origin:right 9.21px;-webkit-text-stroke:0.25px #1c1c1c;">4,4%</div>
<div class="t" style="right:427.57px;top:192.26px;font-size:11px;line-height:12.65px;color:#1c1c1c;font-weight:normal;font-style:normal;letter-spacing:0px;-webkit-text-stroke:0.2px #1c1c1c;">1.808</div>
<div class="t" style="right:392.9px;top:192.59px;font-size:10px;line-height:11.50px;color:#1c1c1c;font-weight:normal;font-style:normal;letter-spacing:0.35px;transform:scale(0.84,0.92);transform-origin:right 9.21px;-webkit-text-stroke:0.25px #1c1c1c;">3,7%</div>
<div class="t" style="right:332.6px;top:192.26px;font-size:11px;line-height:12.65px;color:#9c000e;font-weight:normal;font-style:normal;letter-spacing:0px;transform:scaleX(0.92);transform-origin:right 0;-webkit-text-stroke:0.2px #9c000e;">-9,2%</div>
<div class="t" style="right:271.79999999999995px;top:192.26px;font-size:11px;line-height:12.65px;color:#9c000e;font-weight:normal;font-style:normal;letter-spacing:0px;transform:scaleX(0.92);transform-origin:right 0;-webkit-text-stroke:0.2px #9c000e;">-32,3%</div>
<div class="t" style="right:210.33000000000004px;top:192.26px;font-size:11px;line-height:12.65px;color:#1c1c1c;font-weight:normal;font-style:normal;letter-spacing:0px;-webkit-text-stroke:0.2px #1c1c1c;">4.123</div>
<div class="t" style="right:168.5px;top:192.59px;font-size:10px;line-height:11.50px;color:#1c1c1c;font-weight:normal;font-style:normal;letter-spacing:0.35px;transform:scale(0.84,0.92);transform-origin:right 9.21px;-webkit-text-stroke:0.25px #1c1c1c;">4,5%</div>
<div class="t" style="right:107.77999999999997px;top:192.26px;font-size:11px;line-height:12.65px;color:#1c1c1c;font-weight:normal;font-style:normal;letter-spacing:0px;-webkit-text-stroke:0.2px #1c1c1c;">5.125</div>
<div class="t" style="right:72.5px;top:192.59px;font-size:10px;line-height:11.50px;color:#1c1c1c;font-weight:normal;font-style:normal;letter-spacing:0.35px;transform:scale(0.84,0.92);transform-origin:right 9.21px;-webkit-text-stroke:0.25px #1c1c1c;">4,1%</div>
<div class="t" style="right:11.799999999999955px;top:192.26px;font-size:11px;line-height:12.65px;color:#9c000e;font-weight:normal;font-style:normal;letter-spacing:0px;transform:scaleX(0.92);transform-origin:right 0;-webkit-text-stroke:0.2px #9c000e;">-19,6%</div>
<div class="t" style="left:12.7px;top:211.94px;font-size:11px;line-height:12.65px;color:#1c1c1c;font-weight:normal;font-style:normal;letter-spacing:0.35px;transform:scaleX(0.969);transform-origin:left 0;-webkit-text-stroke:0.2px #1c1c1c;">SALTA</div>
<div class="t" style="right:619.73px;top:211.94px;font-size:11px;line-height:12.65px;color:#1c1c1c;font-weight:normal;font-style:normal;letter-spacing:0px;-webkit-text-stroke:0.2px #1c1c1c;">954</div>
<div class="t" style="right:584.9px;top:212.26px;font-size:10px;line-height:11.50px;color:#1c1c1c;font-weight:normal;font-style:normal;letter-spacing:0.35px;transform:scale(0.84,0.92);transform-origin:right 9.21px;-webkit-text-stroke:0.25px #1c1c1c;">3,5%</div>
<div class="t" style="right:525.28px;top:211.94px;font-size:11px;line-height:12.65px;color:#1c1c1c;font-weight:normal;font-style:normal;letter-spacing:0px;-webkit-text-stroke:0.2px #1c1c1c;">1.051</div>
<div class="t" style="right:488.9px;top:212.26px;font-size:10px;line-height:11.50px;color:#1c1c1c;font-weight:normal;font-style:normal;letter-spacing:0.35px;transform:scale(0.84,0.92);transform-origin:right 9.21px;-webkit-text-stroke:0.25px #1c1c1c;">3,4%</div>
<div class="t" style="right:427.64px;top:211.94px;font-size:11px;line-height:12.65px;color:#1c1c1c;font-weight:normal;font-style:normal;letter-spacing:0px;-webkit-text-stroke:0.2px #1c1c1c;">1.940</div>
<div class="t" style="right:392.9px;top:212.26px;font-size:10px;line-height:11.50px;color:#1c1c1c;font-weight:normal;font-style:normal;letter-spacing:0.35px;transform:scale(0.84,0.92);transform-origin:right 9.21px;-webkit-text-stroke:0.25px #1c1c1c;">4,0%</div>
<div class="t" style="right:332.6px;top:211.94px;font-size:11px;line-height:12.65px;color:#9c000e;font-weight:normal;font-style:normal;letter-spacing:0px;transform:scaleX(0.92);transform-origin:right 0;-webkit-text-stroke:0.2px #9c000e;">-9,2%</div>
<div class="t" style="right:271.79999999999995px;top:211.94px;font-size:11px;line-height:12.65px;color:#9c000e;font-weight:normal;font-style:normal;letter-spacing:0px;transform:scaleX(0.92);transform-origin:right 0;-webkit-text-stroke:0.2px #9c000e;">-50,8%</div>
<div class="t" style="right:210.31000000000006px;top:211.94px;font-size:11px;line-height:12.65px;color:#1c1c1c;font-weight:normal;font-style:normal;letter-spacing:0px;-webkit-text-stroke:0.2px #1c1c1c;">3.039</div>
<div class="t" style="right:168.5px;top:212.26px;font-size:10px;line-height:11.50px;color:#1c1c1c;font-weight:normal;font-style:normal;letter-spacing:0.35px;transform:scale(0.84,0.92);transform-origin:right 9.21px;-webkit-text-stroke:0.25px #1c1c1c;">3,3%</div>
<div class="t" style="right:107.99000000000001px;top:211.94px;font-size:11px;line-height:12.65px;color:#1c1c1c;font-weight:normal;font-style:normal;letter-spacing:0px;-webkit-text-stroke:0.2px #1c1c1c;">4.650</div>
<div class="t" style="right:72.5px;top:212.26px;font-size:10px;line-height:11.50px;color:#1c1c1c;font-weight:normal;font-style:normal;letter-spacing:0.35px;transform:scale(0.84,0.92);transform-origin:right 9.21px;-webkit-text-stroke:0.25px #1c1c1c;">3,7%</div>
<div class="t" style="right:11.799999999999955px;top:211.94px;font-size:11px;line-height:12.65px;color:#9c000e;font-weight:normal;font-style:normal;letter-spacing:0px;transform:scaleX(0.92);transform-origin:right 0;-webkit-text-stroke:0.2px #9c000e;">-34,6%</div>
<div class="t" style="left:12.7px;top:231.62px;font-size:11px;line-height:12.65px;color:#1c1c1c;font-weight:normal;font-style:normal;letter-spacing:0.35px;transform:scaleX(0.887);transform-origin:left 0;-webkit-text-stroke:0.2px #1c1c1c;">ENTRE RIOS</div>
<div class="t" style="right:619.73px;top:231.62px;font-size:11px;line-height:12.65px;color:#1c1c1c;font-weight:normal;font-style:normal;letter-spacing:0px;-webkit-text-stroke:0.2px #1c1c1c;">907</div>
<div class="t" style="right:584.9px;top:231.94px;font-size:10px;line-height:11.50px;color:#1c1c1c;font-weight:normal;font-style:normal;letter-spacing:0.35px;transform:scale(0.84,0.92);transform-origin:right 9.21px;-webkit-text-stroke:0.25px #1c1c1c;">3,3%</div>
<div class="t" style="right:523.48px;top:231.62px;font-size:11px;line-height:12.65px;color:#1c1c1c;font-weight:normal;font-style:normal;letter-spacing:0px;-webkit-text-stroke:0.2px #1c1c1c;">984</div>
<div class="t" style="right:488.9px;top:231.94px;font-size:10px;line-height:11.50px;color:#1c1c1c;font-weight:normal;font-style:normal;letter-spacing:0.35px;transform:scale(0.84,0.92);transform-origin:right 9.21px;-webkit-text-stroke:0.25px #1c1c1c;">3,2%</div>
<div class="t" style="right:427.38px;top:231.62px;font-size:11px;line-height:12.65px;color:#1c1c1c;font-weight:normal;font-style:normal;letter-spacing:0px;-webkit-text-stroke:0.2px #1c1c1c;">1.664</div>
<div class="t" style="right:392.9px;top:231.94px;font-size:10px;line-height:11.50px;color:#1c1c1c;font-weight:normal;font-style:normal;letter-spacing:0.35px;transform:scale(0.84,0.92);transform-origin:right 9.21px;-webkit-text-stroke:0.25px #1c1c1c;">3,4%</div>
<div class="t" style="right:332.6px;top:231.62px;font-size:11px;line-height:12.65px;color:#9c000e;font-weight:normal;font-style:normal;letter-spacing:0px;transform:scaleX(0.92);transform-origin:right 0;-webkit-text-stroke:0.2px #9c000e;">-7,8%</div>
<div class="t" style="right:271.79999999999995px;top:231.62px;font-size:11px;line-height:12.65px;color:#9c000e;font-weight:normal;font-style:normal;letter-spacing:0px;transform:scaleX(0.92);transform-origin:right 0;-webkit-text-stroke:0.2px #9c000e;">-45,5%</div>
<div class="t" style="right:210.14999999999998px;top:231.62px;font-size:11px;line-height:12.65px;color:#1c1c1c;font-weight:normal;font-style:normal;letter-spacing:0px;-webkit-text-stroke:0.2px #1c1c1c;">2.856</div>
<div class="t" style="right:168.5px;top:231.94px;font-size:10px;line-height:11.50px;color:#1c1c1c;font-weight:normal;font-style:normal;letter-spacing:0.35px;transform:scale(0.84,0.92);transform-origin:right 9.21px;-webkit-text-stroke:0.25px #1c1c1c;">3,1%</div>
<div class="t" style="right:107.99000000000001px;top:231.62px;font-size:11px;line-height:12.65px;color:#1c1c1c;font-weight:normal;font-style:normal;letter-spacing:0px;-webkit-text-stroke:0.2px #1c1c1c;">4.110</div>
<div class="t" style="right:72.5px;top:231.94px;font-size:10px;line-height:11.50px;color:#1c1c1c;font-weight:normal;font-style:normal;letter-spacing:0.35px;transform:scale(0.84,0.92);transform-origin:right 9.21px;-webkit-text-stroke:0.25px #1c1c1c;">3,3%</div>
<div class="t" style="right:11.799999999999955px;top:231.62px;font-size:11px;line-height:12.65px;color:#9c000e;font-weight:normal;font-style:normal;letter-spacing:0px;transform:scaleX(0.92);transform-origin:right 0;-webkit-text-stroke:0.2px #9c000e;">-30,5%</div>
<div class="t" style="left:12.7px;top:251.30px;font-size:11px;line-height:12.65px;color:#1c1c1c;font-weight:normal;font-style:normal;letter-spacing:0.35px;transform:scaleX(0.937);transform-origin:left 0;-webkit-text-stroke:0.2px #1c1c1c;">MENDOZA</div>
<div class="t" style="right:619.9200000000001px;top:251.30px;font-size:11px;line-height:12.65px;color:#1c1c1c;font-weight:normal;font-style:normal;letter-spacing:0px;-webkit-text-stroke:0.2px #1c1c1c;">878</div>
<div class="t" style="right:584.9px;top:251.62px;font-size:10px;line-height:11.50px;color:#1c1c1c;font-weight:normal;font-style:normal;letter-spacing:0.35px;transform:scale(0.84,0.92);transform-origin:right 9.21px;-webkit-text-stroke:0.25px #1c1c1c;">3,2%</div>
<div class="t" style="right:525.28px;top:251.30px;font-size:11px;line-height:12.65px;color:#1c1c1c;font-weight:normal;font-style:normal;letter-spacing:0px;-webkit-text-stroke:0.2px #1c1c1c;">1.061</div>
<div class="t" style="right:488.9px;top:251.62px;font-size:10px;line-height:11.50px;color:#1c1c1c;font-weight:normal;font-style:normal;letter-spacing:0.35px;transform:scale(0.84,0.92);transform-origin:right 9.21px;-webkit-text-stroke:0.25px #1c1c1c;">3,4%</div>
<div class="t" style="right:427.49999999999994px;top:251.30px;font-size:11px;line-height:12.65px;color:#1c1c1c;font-weight:normal;font-style:normal;letter-spacing:0px;-webkit-text-stroke:0.2px #1c1c1c;">1.576</div>
<div class="t" style="right:392.9px;top:251.62px;font-size:10px;line-height:11.50px;color:#1c1c1c;font-weight:normal;font-style:normal;letter-spacing:0.35px;transform:scale(0.84,0.92);transform-origin:right 9.21px;-webkit-text-stroke:0.25px #1c1c1c;">3,3%</div>
<div class="t" style="right:332.6px;top:251.30px;font-size:11px;line-height:12.65px;color:#9c000e;font-weight:normal;font-style:normal;letter-spacing:0px;transform:scaleX(0.92);transform-origin:right 0;-webkit-text-stroke:0.2px #9c000e;">-17,2%</div>
<div class="t" style="right:271.79999999999995px;top:251.30px;font-size:11px;line-height:12.65px;color:#9c000e;font-weight:normal;font-style:normal;letter-spacing:0px;transform:scaleX(0.92);transform-origin:right 0;-webkit-text-stroke:0.2px #9c000e;">-44,3%</div>
<div class="t" style="right:210.33000000000004px;top:251.30px;font-size:11px;line-height:12.65px;color:#1c1c1c;font-weight:normal;font-style:normal;letter-spacing:0px;-webkit-text-stroke:0.2px #1c1c1c;">2.933</div>
<div class="t" style="right:168.5px;top:251.62px;font-size:10px;line-height:11.50px;color:#1c1c1c;font-weight:normal;font-style:normal;letter-spacing:0.35px;transform:scale(0.84,0.92);transform-origin:right 9.21px;-webkit-text-stroke:0.25px #1c1c1c;">3,2%</div>
<div class="t" style="right:107.77999999999997px;top:251.30px;font-size:11px;line-height:12.65px;color:#1c1c1c;font-weight:normal;font-style:normal;letter-spacing:0px;-webkit-text-stroke:0.2px #1c1c1c;">3.805</div>
<div class="t" style="right:72.5px;top:251.62px;font-size:10px;line-height:11.50px;color:#1c1c1c;font-weight:normal;font-style:normal;letter-spacing:0.35px;transform:scale(0.84,0.92);transform-origin:right 9.21px;-webkit-text-stroke:0.25px #1c1c1c;">3,0%</div>
<div class="t" style="right:11.799999999999955px;top:251.30px;font-size:11px;line-height:12.65px;color:#9c000e;font-weight:normal;font-style:normal;letter-spacing:0px;transform:scaleX(0.92);transform-origin:right 0;-webkit-text-stroke:0.2px #9c000e;">-22,9%</div>
<div class="t" style="left:12.7px;top:270.98px;font-size:11px;line-height:12.65px;color:#1c1c1c;font-weight:normal;font-style:normal;letter-spacing:0.35px;transform:scaleX(0.884);transform-origin:left 0;-webkit-text-stroke:0.2px #1c1c1c;">CORRIENTES</div>
<div class="t" style="right:619.66px;top:270.98px;font-size:11px;line-height:12.65px;color:#1c1c1c;font-weight:normal;font-style:normal;letter-spacing:0px;-webkit-text-stroke:0.2px #1c1c1c;">822</div>
<div class="t" style="right:584.9px;top:271.31px;font-size:10px;line-height:11.50px;color:#1c1c1c;font-weight:normal;font-style:normal;letter-spacing:0.35px;transform:scale(0.84,0.92);transform-origin:right 9.21px;-webkit-text-stroke:0.25px #1c1c1c;">3,0%</div>
<div class="t" style="right:523.6700000000001px;top:270.98px;font-size:11px;line-height:12.65px;color:#1c1c1c;font-weight:normal;font-style:normal;letter-spacing:0px;-webkit-text-stroke:0.2px #1c1c1c;">958</div>
<div class="t" style="right:488.9px;top:271.31px;font-size:10px;line-height:11.50px;color:#1c1c1c;font-weight:normal;font-style:normal;letter-spacing:0.35px;transform:scale(0.84,0.92);transform-origin:right 9.21px;-webkit-text-stroke:0.25px #1c1c1c;">3,1%</div>
<div class="t" style="right:427.31px;top:270.98px;font-size:11px;line-height:12.65px;color:#1c1c1c;font-weight:normal;font-style:normal;letter-spacing:0px;-webkit-text-stroke:0.2px #1c1c1c;">1.472</div>
<div class="t" style="right:392.9px;top:271.31px;font-size:10px;line-height:11.50px;color:#1c1c1c;font-weight:normal;font-style:normal;letter-spacing:0.35px;transform:scale(0.84,0.92);transform-origin:right 9.21px;-webkit-text-stroke:0.25px #1c1c1c;">3,0%</div>
<div class="t" style="right:332.6px;top:270.98px;font-size:11px;line-height:12.65px;color:#9c000e;font-weight:normal;font-style:normal;letter-spacing:0px;transform:scaleX(0.92);transform-origin:right 0;-webkit-text-stroke:0.2px #9c000e;">-14,2%</div>
<div class="t" style="right:271.79999999999995px;top:270.98px;font-size:11px;line-height:12.65px;color:#9c000e;font-weight:normal;font-style:normal;letter-spacing:0px;transform:scaleX(0.92);transform-origin:right 0;-webkit-text-stroke:0.2px #9c000e;">-44,2%</div>
<div class="t" style="right:210.31000000000006px;top:270.98px;font-size:11px;line-height:12.65px;color:#1c1c1c;font-weight:normal;font-style:normal;letter-spacing:0px;-webkit-text-stroke:0.2px #1c1c1c;">2.709</div>
<div class="t" style="right:168.5px;top:271.31px;font-size:10px;line-height:11.50px;color:#1c1c1c;font-weight:normal;font-style:normal;letter-spacing:0.35px;transform:scale(0.84,0.92);transform-origin:right 9.21px;-webkit-text-stroke:0.25px #1c1c1c;">3,0%</div>
<div class="t" style="right:107.65999999999997px;top:270.98px;font-size:11px;line-height:12.65px;color:#1c1c1c;font-weight:normal;font-style:normal;letter-spacing:0px;-webkit-text-stroke:0.2px #1c1c1c;">3.482</div>
<div class="t" style="right:72.5px;top:271.31px;font-size:10px;line-height:11.50px;color:#1c1c1c;font-weight:normal;font-style:normal;letter-spacing:0.35px;transform:scale(0.84,0.92);transform-origin:right 9.21px;-webkit-text-stroke:0.25px #1c1c1c;">2,8%</div>
<div class="t" style="right:11.799999999999955px;top:270.98px;font-size:11px;line-height:12.65px;color:#9c000e;font-weight:normal;font-style:normal;letter-spacing:0px;transform:scaleX(0.92);transform-origin:right 0;-webkit-text-stroke:0.2px #9c000e;">-22,2%</div>
<div class="t" style="left:12.7px;top:290.66px;font-size:11px;line-height:12.65px;color:#1c1c1c;font-weight:normal;font-style:normal;letter-spacing:0.35px;transform:scaleX(0.914);transform-origin:left 0;-webkit-text-stroke:0.2px #1c1c1c;">MISIONES</div>
<div class="t" style="right:619.9200000000001px;top:290.66px;font-size:11px;line-height:12.65px;color:#1c1c1c;font-weight:normal;font-style:normal;letter-spacing:0px;-webkit-text-stroke:0.2px #1c1c1c;">678</div>
<div class="t" style="right:584.9px;top:290.99px;font-size:10px;line-height:11.50px;color:#1c1c1c;font-weight:normal;font-style:normal;letter-spacing:0.35px;transform:scale(0.84,0.92);transform-origin:right 9.21px;-webkit-text-stroke:0.25px #1c1c1c;">2,5%</div>
<div class="t" style="right:523.76px;top:290.66px;font-size:11px;line-height:12.65px;color:#1c1c1c;font-weight:normal;font-style:normal;letter-spacing:0px;-webkit-text-stroke:0.2px #1c1c1c;">789</div>
<div class="t" style="right:488.9px;top:290.99px;font-size:10px;line-height:11.50px;color:#1c1c1c;font-weight:normal;font-style:normal;letter-spacing:0.35px;transform:scale(0.84,0.92);transform-origin:right 9.21px;-webkit-text-stroke:0.25px #1c1c1c;">2,6%</div>
<div class="t" style="right:427.66px;top:290.66px;font-size:11px;line-height:12.65px;color:#1c1c1c;font-weight:normal;font-style:normal;letter-spacing:0px;-webkit-text-stroke:0.2px #1c1c1c;">1.409</div>
<div class="t" style="right:392.9px;top:290.99px;font-size:10px;line-height:11.50px;color:#1c1c1c;font-weight:normal;font-style:normal;letter-spacing:0.35px;transform:scale(0.84,0.92);transform-origin:right 9.21px;-webkit-text-stroke:0.25px #1c1c1c;">2,9%</div>
<div class="t" style="right:332.6px;top:290.66px;font-size:11px;line-height:12.65px;color:#9c000e;font-weight:normal;font-style:normal;letter-spacing:0px;transform:scaleX(0.92);transform-origin:right 0;-webkit-text-stroke:0.2px #9c000e;">-14,1%</div>
<div class="t" style="right:271.79999999999995px;top:290.66px;font-size:11px;line-height:12.65px;color:#9c000e;font-weight:normal;font-style:normal;letter-spacing:0px;transform:scaleX(0.92);transform-origin:right 0;-webkit-text-stroke:0.2px #9c000e;">-51,9%</div>
<div class="t" style="right:211.83000000000004px;top:290.66px;font-size:11px;line-height:12.65px;color:#1c1c1c;font-weight:normal;font-style:normal;letter-spacing:0px;-webkit-text-stroke:0.2px #1c1c1c;">2.241</div>
<div class="t" style="right:168.5px;top:290.99px;font-size:10px;line-height:11.50px;color:#1c1c1c;font-weight:normal;font-style:normal;letter-spacing:0.35px;transform:scale(0.84,0.92);transform-origin:right 9.21px;-webkit-text-stroke:0.25px #1c1c1c;">2,4%</div>
<div class="t" style="right:107.7299999999999px;top:290.66px;font-size:11px;line-height:12.65px;color:#1c1c1c;font-weight:normal;font-style:normal;letter-spacing:0px;-webkit-text-stroke:0.2px #1c1c1c;">3.674</div>
<div class="t" style="right:72.5px;top:290.99px;font-size:10px;line-height:11.50px;color:#1c1c1c;font-weight:normal;font-style:normal;letter-spacing:0.35px;transform:scale(0.84,0.92);transform-origin:right 9.21px;-webkit-text-stroke:0.25px #1c1c1c;">2,9%</div>
<div class="t" style="right:11.799999999999955px;top:290.66px;font-size:11px;line-height:12.65px;color:#9c000e;font-weight:normal;font-style:normal;letter-spacing:0px;transform:scaleX(0.92);transform-origin:right 0;-webkit-text-stroke:0.2px #9c000e;">-39,0%</div>
<div class="t" style="left:12.7px;top:310.34px;font-size:11px;line-height:12.65px;color:#1c1c1c;font-weight:normal;font-style:normal;letter-spacing:0.35px;transform:scaleX(0.906);transform-origin:left 0;-webkit-text-stroke:0.2px #1c1c1c;">SANTIAGO DEL ESTERO</div>
<div class="t" style="right:619.66px;top:310.34px;font-size:11px;line-height:12.65px;color:#1c1c1c;font-weight:normal;font-style:normal;letter-spacing:0px;-webkit-text-stroke:0.2px #1c1c1c;">502</div>
<div class="t" style="right:584.9px;top:310.67px;font-size:10px;line-height:11.50px;color:#1c1c1c;font-weight:normal;font-style:normal;letter-spacing:0.35px;transform:scale(0.84,0.92);transform-origin:right 9.21px;-webkit-text-stroke:0.25px #1c1c1c;">1,8%</div>
<div class="t" style="right:523.4100000000001px;top:310.34px;font-size:11px;line-height:12.65px;color:#1c1c1c;font-weight:normal;font-style:normal;letter-spacing:0px;-webkit-text-stroke:0.2px #1c1c1c;">562</div>
<div class="t" style="right:488.9px;top:310.67px;font-size:10px;line-height:11.50px;color:#1c1c1c;font-weight:normal;font-style:normal;letter-spacing:0.35px;transform:scale(0.84,0.92);transform-origin:right 9.21px;-webkit-text-stroke:0.25px #1c1c1c;">1,8%</div>
<div class="t" style="right:427.66px;top:310.34px;font-size:11px;line-height:12.65px;color:#1c1c1c;font-weight:normal;font-style:normal;letter-spacing:0px;-webkit-text-stroke:0.2px #1c1c1c;">1.569</div>
<div class="t" style="right:392.9px;top:310.67px;font-size:10px;line-height:11.50px;color:#1c1c1c;font-weight:normal;font-style:normal;letter-spacing:0.35px;transform:scale(0.84,0.92);transform-origin:right 9.21px;-webkit-text-stroke:0.25px #1c1c1c;">3,2%</div>
<div class="t" style="right:332.6px;top:310.34px;font-size:11px;line-height:12.65px;color:#9c000e;font-weight:normal;font-style:normal;letter-spacing:0px;transform:scaleX(0.92);transform-origin:right 0;-webkit-text-stroke:0.2px #9c000e;">-10,7%</div>
<div class="t" style="right:271.79999999999995px;top:310.34px;font-size:11px;line-height:12.65px;color:#9c000e;font-weight:normal;font-style:normal;letter-spacing:0px;transform:scaleX(0.92);transform-origin:right 0;-webkit-text-stroke:0.2px #9c000e;">-68,0%</div>
<div class="t" style="right:210.02999999999997px;top:310.34px;font-size:11px;line-height:12.65px;color:#1c1c1c;font-weight:normal;font-style:normal;letter-spacing:0px;-webkit-text-stroke:0.2px #1c1c1c;">1.764</div>
<div class="t" style="right:168.5px;top:310.67px;font-size:10px;line-height:11.50px;color:#1c1c1c;font-weight:normal;font-style:normal;letter-spacing:0.35px;transform:scale(0.84,0.92);transform-origin:right 9.21px;-webkit-text-stroke:0.25px #1c1c1c;">1,9%</div>
<div class="t" style="right:107.65999999999997px;top:310.34px;font-size:11px;line-height:12.65px;color:#1c1c1c;font-weight:normal;font-style:normal;letter-spacing:0px;-webkit-text-stroke:0.2px #1c1c1c;">3.602</div>
<div class="t" style="right:72.5px;top:310.67px;font-size:10px;line-height:11.50px;color:#1c1c1c;font-weight:normal;font-style:normal;letter-spacing:0.35px;transform:scale(0.84,0.92);transform-origin:right 9.21px;-webkit-text-stroke:0.25px #1c1c1c;">2,9%</div>
<div class="t" style="right:11.799999999999955px;top:310.34px;font-size:11px;line-height:12.65px;color:#9c000e;font-weight:normal;font-style:normal;letter-spacing:0px;transform:scaleX(0.92);transform-origin:right 0;-webkit-text-stroke:0.2px #9c000e;">-51,0%</div>
<div class="t" style="left:12.7px;top:330.02px;font-size:11px;line-height:12.65px;color:#1c1c1c;font-weight:normal;font-style:normal;letter-spacing:0.35px;transform:scaleX(0.927);transform-origin:left 0;-webkit-text-stroke:0.2px #1c1c1c;">SAN LUIS</div>
<div class="t" style="right:619.9200000000001px;top:330.02px;font-size:11px;line-height:12.65px;color:#1c1c1c;font-weight:normal;font-style:normal;letter-spacing:0px;-webkit-text-stroke:0.2px #1c1c1c;">448</div>
<div class="t" style="right:584.9px;top:330.34px;font-size:10px;line-height:11.50px;color:#1c1c1c;font-weight:normal;font-style:normal;letter-spacing:0.35px;transform:scale(0.84,0.92);transform-origin:right 9.21px;-webkit-text-stroke:0.25px #1c1c1c;">1,6%</div>
<div class="t" style="right:523.6700000000001px;top:330.02px;font-size:11px;line-height:12.65px;color:#1c1c1c;font-weight:normal;font-style:normal;letter-spacing:0px;-webkit-text-stroke:0.2px #1c1c1c;">418</div>
<div class="t" style="right:488.9px;top:330.34px;font-size:10px;line-height:11.50px;color:#1c1c1c;font-weight:normal;font-style:normal;letter-spacing:0.35px;transform:scale(0.84,0.92);transform-origin:right 9.21px;-webkit-text-stroke:0.25px #1c1c1c;">1,4%</div>
<div class="t" style="right:427.43px;top:330.02px;font-size:11px;line-height:12.65px;color:#1c1c1c;font-weight:normal;font-style:normal;letter-spacing:0px;-webkit-text-stroke:0.2px #1c1c1c;">605</div>
<div class="t" style="right:392.9px;top:330.34px;font-size:10px;line-height:11.50px;color:#1c1c1c;font-weight:normal;font-style:normal;letter-spacing:0.35px;transform:scale(0.84,0.92);transform-origin:right 9.21px;-webkit-text-stroke:0.25px #1c1c1c;">1,2%</div>
<div class="t" style="right:332.6px;top:330.02px;font-size:11px;line-height:12.65px;color:#4f8a30;font-weight:normal;font-style:normal;letter-spacing:0px;transform:scaleX(0.92);transform-origin:right 0;-webkit-text-stroke:0.2px #4f8a30;">7,2%</div>
<div class="t" style="right:271.79999999999995px;top:330.02px;font-size:11px;line-height:12.65px;color:#9c000e;font-weight:normal;font-style:normal;letter-spacing:0px;transform:scaleX(0.92);transform-origin:right 0;-webkit-text-stroke:0.2px #9c000e;">-26,0%</div>
<div class="t" style="right:210.29000000000008px;top:330.02px;font-size:11px;line-height:12.65px;color:#1c1c1c;font-weight:normal;font-style:normal;letter-spacing:0px;-webkit-text-stroke:0.2px #1c1c1c;">1.310</div>
<div class="t" style="right:168.5px;top:330.34px;font-size:10px;line-height:11.50px;color:#1c1c1c;font-weight:normal;font-style:normal;letter-spacing:0.35px;transform:scale(0.84,0.92);transform-origin:right 9.21px;-webkit-text-stroke:0.25px #1c1c1c;">1,4%</div>
<div class="t" style="right:107.73000000000002px;top:330.02px;font-size:11px;line-height:12.65px;color:#1c1c1c;font-weight:normal;font-style:normal;letter-spacing:0px;-webkit-text-stroke:0.2px #1c1c1c;">1.677</div>
<div class="t" style="right:72.5px;top:330.34px;font-size:10px;line-height:11.50px;color:#1c1c1c;font-weight:normal;font-style:normal;letter-spacing:0.35px;transform:scale(0.84,0.92);transform-origin:right 9.21px;-webkit-text-stroke:0.25px #1c1c1c;">1,3%</div>
<div class="t" style="right:11.799999999999955px;top:330.02px;font-size:11px;line-height:12.65px;color:#9c000e;font-weight:normal;font-style:normal;letter-spacing:0px;transform:scaleX(0.92);transform-origin:right 0;-webkit-text-stroke:0.2px #9c000e;">-21,9%</div>
<div class="t" style="left:12.7px;top:349.70px;font-size:11px;line-height:12.65px;color:#1c1c1c;font-weight:normal;font-style:normal;letter-spacing:0.35px;transform:scaleX(0.883);transform-origin:left 0;-webkit-text-stroke:0.2px #1c1c1c;">FORMOSA</div>
<div class="t" style="right:619.73px;top:349.70px;font-size:11px;line-height:12.65px;color:#1c1c1c;font-weight:normal;font-style:normal;letter-spacing:0px;-webkit-text-stroke:0.2px #1c1c1c;">444</div>
<div class="t" style="right:584.9px;top:350.03px;font-size:10px;line-height:11.50px;color:#1c1c1c;font-weight:normal;font-style:normal;letter-spacing:0.35px;transform:scale(0.84,0.92);transform-origin:right 9.21px;-webkit-text-stroke:0.25px #1c1c1c;">1,6%</div>
<div class="t" style="right:525.28px;top:349.70px;font-size:11px;line-height:12.65px;color:#1c1c1c;font-weight:normal;font-style:normal;letter-spacing:0px;-webkit-text-stroke:0.2px #1c1c1c;">621</div>
<div class="t" style="right:488.9px;top:350.03px;font-size:10px;line-height:11.50px;color:#1c1c1c;font-weight:normal;font-style:normal;letter-spacing:0.35px;transform:scale(0.84,0.92);transform-origin:right 9.21px;-webkit-text-stroke:0.25px #1c1c1c;">2,0%</div>
<div class="t" style="right:427.57px;top:349.70px;font-size:11px;line-height:12.65px;color:#1c1c1c;font-weight:normal;font-style:normal;letter-spacing:0px;-webkit-text-stroke:0.2px #1c1c1c;">1.098</div>
<div class="t" style="right:392.9px;top:350.03px;font-size:10px;line-height:11.50px;color:#1c1c1c;font-weight:normal;font-style:normal;letter-spacing:0.35px;transform:scale(0.84,0.92);transform-origin:right 9.21px;-webkit-text-stroke:0.25px #1c1c1c;">2,3%</div>
<div class="t" style="right:332.6px;top:349.70px;font-size:11px;line-height:12.65px;color:#9c000e;font-weight:normal;font-style:normal;letter-spacing:0px;transform:scaleX(0.92);transform-origin:right 0;-webkit-text-stroke:0.2px #9c000e;">-28,5%</div>
<div class="t" style="right:271.79999999999995px;top:349.70px;font-size:11px;line-height:12.65px;color:#9c000e;font-weight:normal;font-style:normal;letter-spacing:0px;transform:scaleX(0.92);transform-origin:right 0;-webkit-text-stroke:0.2px #9c000e;">-59,6%</div>
<div class="t" style="right:211.83000000000004px;top:349.70px;font-size:11px;line-height:12.65px;color:#1c1c1c;font-weight:normal;font-style:normal;letter-spacing:0px;-webkit-text-stroke:0.2px #1c1c1c;">1.751</div>
<div class="t" style="right:168.5px;top:350.03px;font-size:10px;line-height:11.50px;color:#1c1c1c;font-weight:normal;font-style:normal;letter-spacing:0.35px;transform:scale(0.84,0.92);transform-origin:right 9.21px;-webkit-text-stroke:0.25px #1c1c1c;">1,9%</div>
<div class="t" style="right:108.02999999999997px;top:349.70px;font-size:11px;line-height:12.65px;color:#1c1c1c;font-weight:normal;font-style:normal;letter-spacing:0px;-webkit-text-stroke:0.2px #1c1c1c;">2.763</div>
<div class="t" style="right:72.5px;top:350.03px;font-size:10px;line-height:11.50px;color:#1c1c1c;font-weight:normal;font-style:normal;letter-spacing:0.35px;transform:scale(0.84,0.92);transform-origin:right 9.21px;-webkit-text-stroke:0.25px #1c1c1c;">2,2%</div>
<div class="t" style="right:11.799999999999955px;top:349.70px;font-size:11px;line-height:12.65px;color:#9c000e;font-weight:normal;font-style:normal;letter-spacing:0px;transform:scaleX(0.92);transform-origin:right 0;-webkit-text-stroke:0.2px #9c000e;">-36,6%</div>
<div class="t" style="left:12.7px;top:369.38px;font-size:11px;line-height:12.65px;color:#1c1c1c;font-weight:normal;font-style:normal;letter-spacing:0.35px;transform:scaleX(0.859);transform-origin:left 0;-webkit-text-stroke:0.2px #1c1c1c;">RIO NEGRO</div>
<div class="t" style="right:619.73px;top:369.38px;font-size:11px;line-height:12.65px;color:#1c1c1c;font-weight:normal;font-style:normal;letter-spacing:0px;-webkit-text-stroke:0.2px #1c1c1c;">434</div>
<div class="t" style="right:584.9px;top:369.70px;font-size:10px;line-height:11.50px;color:#1c1c1c;font-weight:normal;font-style:normal;letter-spacing:0.35px;transform:scale(0.84,0.92);transform-origin:right 9.21px;-webkit-text-stroke:0.25px #1c1c1c;">1,6%</div>
<div class="t" style="right:523.78px;top:369.38px;font-size:11px;line-height:12.65px;color:#1c1c1c;font-weight:normal;font-style:normal;letter-spacing:0px;-webkit-text-stroke:0.2px #1c1c1c;">383</div>
<div class="t" style="right:488.9px;top:369.70px;font-size:10px;line-height:11.50px;color:#1c1c1c;font-weight:normal;font-style:normal;letter-spacing:0.35px;transform:scale(0.84,0.92);transform-origin:right 9.21px;-webkit-text-stroke:0.25px #1c1c1c;">1,2%</div>
<div class="t" style="right:427.66px;top:369.38px;font-size:11px;line-height:12.65px;color:#1c1c1c;font-weight:normal;font-style:normal;letter-spacing:0px;-webkit-text-stroke:0.2px #1c1c1c;">649</div>
<div class="t" style="right:392.9px;top:369.70px;font-size:10px;line-height:11.50px;color:#1c1c1c;font-weight:normal;font-style:normal;letter-spacing:0.35px;transform:scale(0.84,0.92);transform-origin:right 9.21px;-webkit-text-stroke:0.25px #1c1c1c;">1,3%</div>
<div class="t" style="right:332.6px;top:369.38px;font-size:11px;line-height:12.65px;color:#4f8a30;font-weight:normal;font-style:normal;letter-spacing:0px;transform:scaleX(0.92);transform-origin:right 0;-webkit-text-stroke:0.2px #4f8a30;">13,3%</div>
<div class="t" style="right:271.79999999999995px;top:369.38px;font-size:11px;line-height:12.65px;color:#9c000e;font-weight:normal;font-style:normal;letter-spacing:0px;transform:scaleX(0.92);transform-origin:right 0;-webkit-text-stroke:0.2px #9c000e;">-33,1%</div>
<div class="t" style="right:210.31000000000006px;top:369.38px;font-size:11px;line-height:12.65px;color:#1c1c1c;font-weight:normal;font-style:normal;letter-spacing:0px;-webkit-text-stroke:0.2px #1c1c1c;">1.229</div>
<div class="t" style="right:168.5px;top:369.70px;font-size:10px;line-height:11.50px;color:#1c1c1c;font-weight:normal;font-style:normal;letter-spacing:0.35px;transform:scale(0.84,0.92);transform-origin:right 9.21px;-webkit-text-stroke:0.25px #1c1c1c;">1,3%</div>
<div class="t" style="right:107.7299999999999px;top:369.38px;font-size:11px;line-height:12.65px;color:#1c1c1c;font-weight:normal;font-style:normal;letter-spacing:0px;-webkit-text-stroke:0.2px #1c1c1c;">1.654</div>
<div class="t" style="right:72.5px;top:369.70px;font-size:10px;line-height:11.50px;color:#1c1c1c;font-weight:normal;font-style:normal;letter-spacing:0.35px;transform:scale(0.84,0.92);transform-origin:right 9.21px;-webkit-text-stroke:0.25px #1c1c1c;">1,3%</div>
<div class="t" style="right:11.799999999999955px;top:369.38px;font-size:11px;line-height:12.65px;color:#9c000e;font-weight:normal;font-style:normal;letter-spacing:0px;transform:scaleX(0.92);transform-origin:right 0;-webkit-text-stroke:0.2px #9c000e;">-25,7%</div>
<div class="t" style="left:12.7px;top:389.06px;font-size:11px;line-height:12.65px;color:#1c1c1c;font-weight:normal;font-style:normal;letter-spacing:0.35px;transform:scaleX(0.902);transform-origin:left 0;-webkit-text-stroke:0.2px #1c1c1c;">NEUQUEN</div>
<div class="t" style="right:619.78px;top:389.06px;font-size:11px;line-height:12.65px;color:#1c1c1c;font-weight:normal;font-style:normal;letter-spacing:0px;-webkit-text-stroke:0.2px #1c1c1c;">385</div>
<div class="t" style="right:584.9px;top:389.38px;font-size:10px;line-height:11.50px;color:#1c1c1c;font-weight:normal;font-style:normal;letter-spacing:0.35px;transform:scale(0.84,0.92);transform-origin:right 9.21px;-webkit-text-stroke:0.25px #1c1c1c;">1,4%</div>
<div class="t" style="right:523.74px;top:389.06px;font-size:11px;line-height:12.65px;color:#1c1c1c;font-weight:normal;font-style:normal;letter-spacing:0px;-webkit-text-stroke:0.2px #1c1c1c;">360</div>
<div class="t" style="right:488.9px;top:389.38px;font-size:10px;line-height:11.50px;color:#1c1c1c;font-weight:normal;font-style:normal;letter-spacing:0.35px;transform:scale(0.84,0.92);transform-origin:right 9.21px;-webkit-text-stroke:0.25px #1c1c1c;">1,2%</div>
<div class="t" style="right:427.31px;top:389.06px;font-size:11px;line-height:12.65px;color:#1c1c1c;font-weight:normal;font-style:normal;letter-spacing:0px;-webkit-text-stroke:0.2px #1c1c1c;">542</div>
<div class="t" style="right:392.9px;top:389.38px;font-size:10px;line-height:11.50px;color:#1c1c1c;font-weight:normal;font-style:normal;letter-spacing:0.35px;transform:scale(0.84,0.92);transform-origin:right 9.21px;-webkit-text-stroke:0.25px #1c1c1c;">1,1%</div>
<div class="t" style="right:332.6px;top:389.06px;font-size:11px;line-height:12.65px;color:#4f8a30;font-weight:normal;font-style:normal;letter-spacing:0px;transform:scaleX(0.92);transform-origin:right 0;-webkit-text-stroke:0.2px #4f8a30;">6,9%</div>
<div class="t" style="right:271.79999999999995px;top:389.06px;font-size:11px;line-height:12.65px;color:#9c000e;font-weight:normal;font-style:normal;letter-spacing:0px;transform:scaleX(0.92);transform-origin:right 0;-webkit-text-stroke:0.2px #9c000e;">-29,0%</div>
<div class="t" style="right:210.0300000000001px;top:389.06px;font-size:11px;line-height:12.65px;color:#1c1c1c;font-weight:normal;font-style:normal;letter-spacing:0px;-webkit-text-stroke:0.2px #1c1c1c;">1.107</div>
<div class="t" style="right:168.5px;top:389.38px;font-size:10px;line-height:11.50px;color:#1c1c1c;font-weight:normal;font-style:normal;letter-spacing:0.35px;transform:scale(0.84,0.92);transform-origin:right 9.21px;-webkit-text-stroke:0.25px #1c1c1c;">1,2%</div>
<div class="t" style="right:108.02999999999997px;top:389.06px;font-size:11px;line-height:12.65px;color:#1c1c1c;font-weight:normal;font-style:normal;letter-spacing:0px;-webkit-text-stroke:0.2px #1c1c1c;">1.413</div>
<div class="t" style="right:72.5px;top:389.38px;font-size:10px;line-height:11.50px;color:#1c1c1c;font-weight:normal;font-style:normal;letter-spacing:0.35px;transform:scale(0.84,0.92);transform-origin:right 9.21px;-webkit-text-stroke:0.25px #1c1c1c;">1,1%</div>
<div class="t" style="right:11.799999999999955px;top:389.06px;font-size:11px;line-height:12.65px;color:#9c000e;font-weight:normal;font-style:normal;letter-spacing:0px;transform:scaleX(0.92);transform-origin:right 0;-webkit-text-stroke:0.2px #9c000e;">-21,7%</div>
<div class="t" style="left:12.7px;top:408.74px;font-size:11px;line-height:12.65px;color:#1c1c1c;font-weight:normal;font-style:normal;letter-spacing:0.35px;transform:scaleX(0.925);transform-origin:left 0;-webkit-text-stroke:0.2px #1c1c1c;">JUJUY</div>
<div class="t" style="right:619.9200000000001px;top:408.74px;font-size:11px;line-height:12.65px;color:#1c1c1c;font-weight:normal;font-style:normal;letter-spacing:0px;-webkit-text-stroke:0.2px #1c1c1c;">378</div>
<div class="t" style="right:584.9px;top:409.06px;font-size:10px;line-height:11.50px;color:#1c1c1c;font-weight:normal;font-style:normal;letter-spacing:0.35px;transform:scale(0.84,0.92);transform-origin:right 9.21px;-webkit-text-stroke:0.25px #1c1c1c;">1,4%</div>
<div class="t" style="right:523.78px;top:408.74px;font-size:11px;line-height:12.65px;color:#1c1c1c;font-weight:normal;font-style:normal;letter-spacing:0px;-webkit-text-stroke:0.2px #1c1c1c;">373</div>
<div class="t" style="right:488.9px;top:409.06px;font-size:10px;line-height:11.50px;color:#1c1c1c;font-weight:normal;font-style:normal;letter-spacing:0.35px;transform:scale(0.84,0.92);transform-origin:right 9.21px;-webkit-text-stroke:0.25px #1c1c1c;">1,2%</div>
<div class="t" style="right:427.43px;top:408.74px;font-size:11px;line-height:12.65px;color:#1c1c1c;font-weight:normal;font-style:normal;letter-spacing:0px;-webkit-text-stroke:0.2px #1c1c1c;">905</div>
<div class="t" style="right:392.9px;top:409.06px;font-size:10px;line-height:11.50px;color:#1c1c1c;font-weight:normal;font-style:normal;letter-spacing:0.35px;transform:scale(0.84,0.92);transform-origin:right 9.21px;-webkit-text-stroke:0.25px #1c1c1c;">1,9%</div>
<div class="t" style="right:332.6px;top:408.74px;font-size:11px;line-height:12.65px;color:#4f8a30;font-weight:normal;font-style:normal;letter-spacing:0px;transform:scaleX(0.92);transform-origin:right 0;-webkit-text-stroke:0.2px #4f8a30;">1,3%</div>
<div class="t" style="right:271.79999999999995px;top:408.74px;font-size:11px;line-height:12.65px;color:#9c000e;font-weight:normal;font-style:normal;letter-spacing:0px;transform:scaleX(0.92);transform-origin:right 0;-webkit-text-stroke:0.2px #9c000e;">-58,2%</div>
<div class="t" style="right:210.31000000000006px;top:408.74px;font-size:11px;line-height:12.65px;color:#1c1c1c;font-weight:normal;font-style:normal;letter-spacing:0px;-webkit-text-stroke:0.2px #1c1c1c;">1.279</div>
<div class="t" style="right:168.5px;top:409.06px;font-size:10px;line-height:11.50px;color:#1c1c1c;font-weight:normal;font-style:normal;letter-spacing:0.35px;transform:scale(0.84,0.92);transform-origin:right 9.21px;-webkit-text-stroke:0.25px #1c1c1c;">1,4%</div>
<div class="t" style="right:107.73000000000002px;top:408.74px;font-size:11px;line-height:12.65px;color:#1c1c1c;font-weight:normal;font-style:normal;letter-spacing:0px;-webkit-text-stroke:0.2px #1c1c1c;">1.887</div>
<div class="t" style="right:72.5px;top:409.06px;font-size:10px;line-height:11.50px;color:#1c1c1c;font-weight:normal;font-style:normal;letter-spacing:0.35px;transform:scale(0.84,0.92);transform-origin:right 9.21px;-webkit-text-stroke:0.25px #1c1c1c;">1,5%</div>
<div class="t" style="right:11.799999999999955px;top:408.74px;font-size:11px;line-height:12.65px;color:#9c000e;font-weight:normal;font-style:normal;letter-spacing:0px;transform:scaleX(0.92);transform-origin:right 0;-webkit-text-stroke:0.2px #9c000e;">-32,2%</div>
<div class="t" style="left:12.7px;top:428.42px;font-size:11px;line-height:12.65px;color:#1c1c1c;font-weight:normal;font-style:normal;letter-spacing:0.35px;transform:scaleX(0.954);transform-origin:left 0;-webkit-text-stroke:0.2px #1c1c1c;">CATAMARCA</div>
<div class="t" style="right:620.01px;top:428.42px;font-size:11px;line-height:12.65px;color:#1c1c1c;font-weight:normal;font-style:normal;letter-spacing:0px;-webkit-text-stroke:0.2px #1c1c1c;">359</div>
<div class="t" style="right:584.9px;top:428.75px;font-size:10px;line-height:11.50px;color:#1c1c1c;font-weight:normal;font-style:normal;letter-spacing:0.35px;transform:scale(0.84,0.92);transform-origin:right 9.21px;-webkit-text-stroke:0.25px #1c1c1c;">1,3%</div>
<div class="t" style="right:523.53px;top:428.42px;font-size:11px;line-height:12.65px;color:#1c1c1c;font-weight:normal;font-style:normal;letter-spacing:0px;-webkit-text-stroke:0.2px #1c1c1c;">365</div>
<div class="t" style="right:488.9px;top:428.75px;font-size:10px;line-height:11.50px;color:#1c1c1c;font-weight:normal;font-style:normal;letter-spacing:0.35px;transform:scale(0.84,0.92);transform-origin:right 9.21px;-webkit-text-stroke:0.25px #1c1c1c;">1,2%</div>
<div class="t" style="right:427.66px;top:428.42px;font-size:11px;line-height:12.65px;color:#1c1c1c;font-weight:normal;font-style:normal;letter-spacing:0px;-webkit-text-stroke:0.2px #1c1c1c;">789</div>
<div class="t" style="right:392.9px;top:428.75px;font-size:10px;line-height:11.50px;color:#1c1c1c;font-weight:normal;font-style:normal;letter-spacing:0.35px;transform:scale(0.84,0.92);transform-origin:right 9.21px;-webkit-text-stroke:0.25px #1c1c1c;">1,6%</div>
<div class="t" style="right:332.6px;top:428.42px;font-size:11px;line-height:12.65px;color:#9c000e;font-weight:normal;font-style:normal;letter-spacing:0px;transform:scaleX(0.92);transform-origin:right 0;-webkit-text-stroke:0.2px #9c000e;">-1,6%</div>
<div class="t" style="right:271.79999999999995px;top:428.42px;font-size:11px;line-height:12.65px;color:#9c000e;font-weight:normal;font-style:normal;letter-spacing:0px;transform:scaleX(0.92);transform-origin:right 0;-webkit-text-stroke:0.2px #9c000e;">-54,5%</div>
<div class="t" style="right:210.14999999999998px;top:428.42px;font-size:11px;line-height:12.65px;color:#1c1c1c;font-weight:normal;font-style:normal;letter-spacing:0px;-webkit-text-stroke:0.2px #1c1c1c;">1.066</div>
<div class="t" style="right:168.5px;top:428.75px;font-size:10px;line-height:11.50px;color:#1c1c1c;font-weight:normal;font-style:normal;letter-spacing:0.35px;transform:scale(0.84,0.92);transform-origin:right 9.21px;-webkit-text-stroke:0.25px #1c1c1c;">1,2%</div>
<div class="t" style="right:107.91999999999996px;top:428.42px;font-size:11px;line-height:12.65px;color:#1c1c1c;font-weight:normal;font-style:normal;letter-spacing:0px;-webkit-text-stroke:0.2px #1c1c1c;">1.498</div>
<div class="t" style="right:72.5px;top:428.75px;font-size:10px;line-height:11.50px;color:#1c1c1c;font-weight:normal;font-style:normal;letter-spacing:0.35px;transform:scale(0.84,0.92);transform-origin:right 9.21px;-webkit-text-stroke:0.25px #1c1c1c;">1,2%</div>
<div class="t" style="right:11.799999999999955px;top:428.42px;font-size:11px;line-height:12.65px;color:#9c000e;font-weight:normal;font-style:normal;letter-spacing:0px;transform:scaleX(0.92);transform-origin:right 0;-webkit-text-stroke:0.2px #9c000e;">-28,8%</div>
<div class="t" style="left:12.7px;top:448.10px;font-size:11px;line-height:12.65px;color:#1c1c1c;font-weight:normal;font-style:normal;letter-spacing:0.35px;transform:scaleX(0.944);transform-origin:left 0;-webkit-text-stroke:0.2px #1c1c1c;">SAN JUAN</div>
<div class="t" style="right:619.85px;top:448.10px;font-size:11px;line-height:12.65px;color:#1c1c1c;font-weight:normal;font-style:normal;letter-spacing:0px;-webkit-text-stroke:0.2px #1c1c1c;">346</div>
<div class="t" style="right:584.9px;top:448.43px;font-size:10px;line-height:11.50px;color:#1c1c1c;font-weight:normal;font-style:normal;letter-spacing:0.35px;transform:scale(0.84,0.92);transform-origin:right 9.21px;-webkit-text-stroke:0.25px #1c1c1c;">1,3%</div>
<div class="t" style="right:523.76px;top:448.10px;font-size:11px;line-height:12.65px;color:#1c1c1c;font-weight:normal;font-style:normal;letter-spacing:0px;-webkit-text-stroke:0.2px #1c1c1c;">419</div>
<div class="t" style="right:488.9px;top:448.43px;font-size:10px;line-height:11.50px;color:#1c1c1c;font-weight:normal;font-style:normal;letter-spacing:0.35px;transform:scale(0.84,0.92);transform-origin:right 9.21px;-webkit-text-stroke:0.25px #1c1c1c;">1,4%</div>
<div class="t" style="right:427.57px;top:448.10px;font-size:11px;line-height:12.65px;color:#1c1c1c;font-weight:normal;font-style:normal;letter-spacing:0px;-webkit-text-stroke:0.2px #1c1c1c;">678</div>
<div class="t" style="right:392.9px;top:448.43px;font-size:10px;line-height:11.50px;color:#1c1c1c;font-weight:normal;font-style:normal;letter-spacing:0.35px;transform:scale(0.84,0.92);transform-origin:right 9.21px;-webkit-text-stroke:0.25px #1c1c1c;">1,4%</div>
<div class="t" style="right:332.6px;top:448.10px;font-size:11px;line-height:12.65px;color:#9c000e;font-weight:normal;font-style:normal;letter-spacing:0px;transform:scaleX(0.92);transform-origin:right 0;-webkit-text-stroke:0.2px #9c000e;">-17,4%</div>
<div class="t" style="right:271.79999999999995px;top:448.10px;font-size:11px;line-height:12.65px;color:#9c000e;font-weight:normal;font-style:normal;letter-spacing:0px;transform:scaleX(0.92);transform-origin:right 0;-webkit-text-stroke:0.2px #9c000e;">-49,0%</div>
<div class="t" style="right:211.83000000000004px;top:448.10px;font-size:11px;line-height:12.65px;color:#1c1c1c;font-weight:normal;font-style:normal;letter-spacing:0px;-webkit-text-stroke:0.2px #1c1c1c;">1.181</div>
<div class="t" style="right:168.5px;top:448.43px;font-size:10px;line-height:11.50px;color:#1c1c1c;font-weight:normal;font-style:normal;letter-spacing:0.35px;transform:scale(0.84,0.92);transform-origin:right 9.21px;-webkit-text-stroke:0.25px #1c1c1c;">1,3%</div>
<div class="t" style="right:107.73000000000002px;top:448.10px;font-size:11px;line-height:12.65px;color:#1c1c1c;font-weight:normal;font-style:normal;letter-spacing:0px;-webkit-text-stroke:0.2px #1c1c1c;">1.637</div>
<div class="t" style="right:72.5px;top:448.43px;font-size:10px;line-height:11.50px;color:#1c1c1c;font-weight:normal;font-style:normal;letter-spacing:0.35px;transform:scale(0.84,0.92);transform-origin:right 9.21px;-webkit-text-stroke:0.25px #1c1c1c;">1,3%</div>
<div class="t" style="right:11.799999999999955px;top:448.10px;font-size:11px;line-height:12.65px;color:#9c000e;font-weight:normal;font-style:normal;letter-spacing:0px;transform:scaleX(0.92);transform-origin:right 0;-webkit-text-stroke:0.2px #9c000e;">-27,9%</div>
<div class="t" style="left:12.7px;top:467.78px;font-size:11px;line-height:12.65px;color:#1c1c1c;font-weight:normal;font-style:normal;letter-spacing:0.35px;transform:scaleX(0.968);transform-origin:left 0;-webkit-text-stroke:0.2px #1c1c1c;">LA PAMPA</div>
<div class="t" style="right:619.78px;top:467.78px;font-size:11px;line-height:12.65px;color:#1c1c1c;font-weight:normal;font-style:normal;letter-spacing:0px;-webkit-text-stroke:0.2px #1c1c1c;">285</div>
<div class="t" style="right:584.9px;top:468.11px;font-size:10px;line-height:11.50px;color:#1c1c1c;font-weight:normal;font-style:normal;letter-spacing:0.35px;transform:scale(0.84,0.92);transform-origin:right 9.21px;-webkit-text-stroke:0.25px #1c1c1c;">1,0%</div>
<div class="t" style="right:523.6700000000001px;top:467.78px;font-size:11px;line-height:12.65px;color:#1c1c1c;font-weight:normal;font-style:normal;letter-spacing:0px;-webkit-text-stroke:0.2px #1c1c1c;">278</div>
<div class="t" style="right:488.9px;top:468.11px;font-size:10px;line-height:11.50px;color:#1c1c1c;font-weight:normal;font-style:normal;letter-spacing:0.35px;transform:scale(0.84,0.92);transform-origin:right 9.21px;-webkit-text-stroke:0.25px #1c1c1c;">0,9%</div>
<div class="t" style="right:427.38px;top:467.78px;font-size:11px;line-height:12.65px;color:#1c1c1c;font-weight:normal;font-style:normal;letter-spacing:0px;-webkit-text-stroke:0.2px #1c1c1c;">494</div>
<div class="t" style="right:392.9px;top:468.11px;font-size:10px;line-height:11.50px;color:#1c1c1c;font-weight:normal;font-style:normal;letter-spacing:0.35px;transform:scale(0.84,0.92);transform-origin:right 9.21px;-webkit-text-stroke:0.25px #1c1c1c;">1,0%</div>
<div class="t" style="right:332.6px;top:467.78px;font-size:11px;line-height:12.65px;color:#4f8a30;font-weight:normal;font-style:normal;letter-spacing:0px;transform:scaleX(0.92);transform-origin:right 0;-webkit-text-stroke:0.2px #4f8a30;">2,5%</div>
<div class="t" style="right:271.79999999999995px;top:467.78px;font-size:11px;line-height:12.65px;color:#9c000e;font-weight:normal;font-style:normal;letter-spacing:0px;transform:scaleX(0.92);transform-origin:right 0;-webkit-text-stroke:0.2px #9c000e;">-42,3%</div>
<div class="t" style="right:210.22000000000003px;top:467.78px;font-size:11px;line-height:12.65px;color:#1c1c1c;font-weight:normal;font-style:normal;letter-spacing:0px;-webkit-text-stroke:0.2px #1c1c1c;">908</div>
<div class="t" style="right:168.5px;top:468.11px;font-size:10px;line-height:11.50px;color:#1c1c1c;font-weight:normal;font-style:normal;letter-spacing:0.35px;transform:scale(0.84,0.92);transform-origin:right 9.21px;-webkit-text-stroke:0.25px #1c1c1c;">1,0%</div>
<div class="t" style="right:107.65999999999997px;top:467.78px;font-size:11px;line-height:12.65px;color:#1c1c1c;font-weight:normal;font-style:normal;letter-spacing:0px;-webkit-text-stroke:0.2px #1c1c1c;">1.342</div>
<div class="t" style="right:72.5px;top:468.11px;font-size:10px;line-height:11.50px;color:#1c1c1c;font-weight:normal;font-style:normal;letter-spacing:0.35px;transform:scale(0.84,0.92);transform-origin:right 9.21px;-webkit-text-stroke:0.25px #1c1c1c;">1,1%</div>
<div class="t" style="right:11.799999999999955px;top:467.78px;font-size:11px;line-height:12.65px;color:#9c000e;font-weight:normal;font-style:normal;letter-spacing:0px;transform:scaleX(0.92);transform-origin:right 0;-webkit-text-stroke:0.2px #9c000e;">-32,3%</div>
<div class="t" style="left:12.7px;top:487.46px;font-size:11px;line-height:12.65px;color:#1c1c1c;font-weight:normal;font-style:normal;letter-spacing:0.35px;transform:scaleX(0.91);transform-origin:left 0;-webkit-text-stroke:0.2px #1c1c1c;">LA RIOJA</div>
<div class="t" style="right:619.73px;top:487.46px;font-size:11px;line-height:12.65px;color:#1c1c1c;font-weight:normal;font-style:normal;letter-spacing:0px;-webkit-text-stroke:0.2px #1c1c1c;">237</div>
<div class="t" style="right:584.9px;top:487.79px;font-size:10px;line-height:11.50px;color:#1c1c1c;font-weight:normal;font-style:normal;letter-spacing:0.35px;transform:scale(0.84,0.92);transform-origin:right 9.21px;-webkit-text-stroke:0.25px #1c1c1c;">0,9%</div>
<div class="t" style="right:523.78px;top:487.46px;font-size:11px;line-height:12.65px;color:#1c1c1c;font-weight:normal;font-style:normal;letter-spacing:0px;-webkit-text-stroke:0.2px #1c1c1c;">343</div>
<div class="t" style="right:488.9px;top:487.79px;font-size:10px;line-height:11.50px;color:#1c1c1c;font-weight:normal;font-style:normal;letter-spacing:0.35px;transform:scale(0.84,0.92);transform-origin:right 9.21px;-webkit-text-stroke:0.25px #1c1c1c;">1,1%</div>
<div class="t" style="right:427.43px;top:487.46px;font-size:11px;line-height:12.65px;color:#1c1c1c;font-weight:normal;font-style:normal;letter-spacing:0px;-webkit-text-stroke:0.2px #1c1c1c;">705</div>
<div class="t" style="right:392.9px;top:487.79px;font-size:10px;line-height:11.50px;color:#1c1c1c;font-weight:normal;font-style:normal;letter-spacing:0.35px;transform:scale(0.84,0.92);transform-origin:right 9.21px;-webkit-text-stroke:0.25px #1c1c1c;">1,5%</div>
<div class="t" style="right:332.6px;top:487.46px;font-size:11px;line-height:12.65px;color:#9c000e;font-weight:normal;font-style:normal;letter-spacing:0px;transform:scaleX(0.92);transform-origin:right 0;-webkit-text-stroke:0.2px #9c000e;">-30,9%</div>
<div class="t" style="right:271.79999999999995px;top:487.46px;font-size:11px;line-height:12.65px;color:#9c000e;font-weight:normal;font-style:normal;letter-spacing:0px;transform:scaleX(0.92);transform-origin:right 0;-webkit-text-stroke:0.2px #9c000e;">-66,4%</div>
<div class="t" style="right:210.14999999999998px;top:487.46px;font-size:11px;line-height:12.65px;color:#1c1c1c;font-weight:normal;font-style:normal;letter-spacing:0px;-webkit-text-stroke:0.2px #1c1c1c;">916</div>
<div class="t" style="right:168.5px;top:487.79px;font-size:10px;line-height:11.50px;color:#1c1c1c;font-weight:normal;font-style:normal;letter-spacing:0.35px;transform:scale(0.84,0.92);transform-origin:right 9.21px;-webkit-text-stroke:0.25px #1c1c1c;">1,0%</div>
<div class="t" style="right:107.7299999999999px;top:487.46px;font-size:11px;line-height:12.65px;color:#1c1c1c;font-weight:normal;font-style:normal;letter-spacing:0px;-webkit-text-stroke:0.2px #1c1c1c;">1.554</div>
<div class="t" style="right:72.5px;top:487.79px;font-size:10px;line-height:11.50px;color:#1c1c1c;font-weight:normal;font-style:normal;letter-spacing:0.35px;transform:scale(0.84,0.92);transform-origin:right 9.21px;-webkit-text-stroke:0.25px #1c1c1c;">1,2%</div>
<div class="t" style="right:11.799999999999955px;top:487.46px;font-size:11px;line-height:12.65px;color:#9c000e;font-weight:normal;font-style:normal;letter-spacing:0px;transform:scaleX(0.92);transform-origin:right 0;-webkit-text-stroke:0.2px #9c000e;">-41,1%</div>
<div class="t" style="left:12.7px;top:507.14px;font-size:11px;line-height:12.65px;color:#1c1c1c;font-weight:normal;font-style:normal;letter-spacing:0.35px;transform:scaleX(0.913);transform-origin:left 0;-webkit-text-stroke:0.2px #1c1c1c;">CHUBUT</div>
<div class="t" style="right:620.01px;top:507.14px;font-size:11px;line-height:12.65px;color:#1c1c1c;font-weight:normal;font-style:normal;letter-spacing:0px;-webkit-text-stroke:0.2px #1c1c1c;">229</div>
<div class="t" style="right:584.9px;top:507.46px;font-size:10px;line-height:11.50px;color:#1c1c1c;font-weight:normal;font-style:normal;letter-spacing:0.35px;transform:scale(0.84,0.92);transform-origin:right 9.21px;-webkit-text-stroke:0.25px #1c1c1c;">0,8%</div>
<div class="t" style="right:523.53px;top:507.14px;font-size:11px;line-height:12.65px;color:#1c1c1c;font-weight:normal;font-style:normal;letter-spacing:0px;-webkit-text-stroke:0.2px #1c1c1c;">225</div>
<div class="t" style="right:488.9px;top:507.46px;font-size:10px;line-height:11.50px;color:#1c1c1c;font-weight:normal;font-style:normal;letter-spacing:0.35px;transform:scale(0.84,0.92);transform-origin:right 9.21px;-webkit-text-stroke:0.25px #1c1c1c;">0,7%</div>
<div class="t" style="right:429.17999999999995px;top:507.14px;font-size:11px;line-height:12.65px;color:#1c1c1c;font-weight:normal;font-style:normal;letter-spacing:0px;-webkit-text-stroke:0.2px #1c1c1c;">311</div>
<div class="t" style="right:392.9px;top:507.46px;font-size:10px;line-height:11.50px;color:#1c1c1c;font-weight:normal;font-style:normal;letter-spacing:0.35px;transform:scale(0.84,0.92);transform-origin:right 9.21px;-webkit-text-stroke:0.25px #1c1c1c;">0,6%</div>
<div class="t" style="right:332.6px;top:507.14px;font-size:11px;line-height:12.65px;color:#4f8a30;font-weight:normal;font-style:normal;letter-spacing:0px;transform:scaleX(0.92);transform-origin:right 0;-webkit-text-stroke:0.2px #4f8a30;">1,8%</div>
<div class="t" style="right:271.79999999999995px;top:507.14px;font-size:11px;line-height:12.65px;color:#9c000e;font-weight:normal;font-style:normal;letter-spacing:0px;transform:scaleX(0.92);transform-origin:right 0;-webkit-text-stroke:0.2px #9c000e;">-26,4%</div>
<div class="t" style="right:210.02999999999997px;top:507.14px;font-size:11px;line-height:12.65px;color:#1c1c1c;font-weight:normal;font-style:normal;letter-spacing:0px;-webkit-text-stroke:0.2px #1c1c1c;">724</div>
<div class="t" style="right:168.5px;top:507.46px;font-size:10px;line-height:11.50px;color:#1c1c1c;font-weight:normal;font-style:normal;letter-spacing:0.35px;transform:scale(0.84,0.92);transform-origin:right 9.21px;-webkit-text-stroke:0.25px #1c1c1c;">0,8%</div>
<div class="t" style="right:107.99000000000001px;top:507.14px;font-size:11px;line-height:12.65px;color:#1c1c1c;font-weight:normal;font-style:normal;letter-spacing:0px;-webkit-text-stroke:0.2px #1c1c1c;">720</div>
<div class="t" style="right:72.5px;top:507.46px;font-size:10px;line-height:11.50px;color:#1c1c1c;font-weight:normal;font-style:normal;letter-spacing:0.35px;transform:scale(0.84,0.92);transform-origin:right 9.21px;-webkit-text-stroke:0.25px #1c1c1c;">0,6%</div>
<div class="t" style="right:11.799999999999955px;top:507.14px;font-size:11px;line-height:12.65px;color:#4f8a30;font-weight:normal;font-style:normal;letter-spacing:0px;transform:scaleX(0.92);transform-origin:right 0;-webkit-text-stroke:0.2px #4f8a30;">0,6%</div>
<div class="t" style="left:12.7px;top:526.82px;font-size:11px;line-height:12.65px;color:#1c1c1c;font-weight:normal;font-style:normal;letter-spacing:0.35px;transform:scaleX(0.94);transform-origin:left 0;-webkit-text-stroke:0.2px #1c1c1c;">SANTA CRUZ</div>
<div class="t" style="right:621.53px;top:526.82px;font-size:11px;line-height:12.65px;color:#1c1c1c;font-weight:normal;font-style:normal;letter-spacing:0px;-webkit-text-stroke:0.2px #1c1c1c;">81</div>
<div class="t" style="right:584.9px;top:527.14px;font-size:10px;line-height:11.50px;color:#1c1c1c;font-weight:normal;font-style:normal;letter-spacing:0.35px;transform:scale(0.84,0.92);transform-origin:right 9.21px;-webkit-text-stroke:0.25px #1c1c1c;">0,3%</div>
<div class="t" style="right:523.5999999999999px;top:526.82px;font-size:11px;line-height:12.65px;color:#1c1c1c;font-weight:normal;font-style:normal;letter-spacing:0px;-webkit-text-stroke:0.2px #1c1c1c;">96</div>
<div class="t" style="right:488.9px;top:527.14px;font-size:10px;line-height:11.50px;color:#1c1c1c;font-weight:normal;font-style:normal;letter-spacing:0.35px;transform:scale(0.84,0.92);transform-origin:right 9.21px;-webkit-text-stroke:0.25px #1c1c1c;">0,3%</div>
<div class="t" style="right:427.67999999999995px;top:526.82px;font-size:11px;line-height:12.65px;color:#1c1c1c;font-weight:normal;font-style:normal;letter-spacing:0px;-webkit-text-stroke:0.2px #1c1c1c;">123</div>
<div class="t" style="right:392.9px;top:527.14px;font-size:10px;line-height:11.50px;color:#1c1c1c;font-weight:normal;font-style:normal;letter-spacing:0.35px;transform:scale(0.84,0.92);transform-origin:right 9.21px;-webkit-text-stroke:0.25px #1c1c1c;">0,3%</div>
<div class="t" style="right:332.6px;top:526.82px;font-size:11px;line-height:12.65px;color:#9c000e;font-weight:normal;font-style:normal;letter-spacing:0px;transform:scaleX(0.92);transform-origin:right 0;-webkit-text-stroke:0.2px #9c000e;">-15,6%</div>
<div class="t" style="right:271.79999999999995px;top:526.82px;font-size:11px;line-height:12.65px;color:#9c000e;font-weight:normal;font-style:normal;letter-spacing:0px;transform:scaleX(0.92);transform-origin:right 0;-webkit-text-stroke:0.2px #9c000e;">-34,1%</div>
<div class="t" style="right:210.02999999999997px;top:526.82px;font-size:11px;line-height:12.65px;color:#1c1c1c;font-weight:normal;font-style:normal;letter-spacing:0px;-webkit-text-stroke:0.2px #1c1c1c;">304</div>
<div class="t" style="right:168.5px;top:527.14px;font-size:10px;line-height:11.50px;color:#1c1c1c;font-weight:normal;font-style:normal;letter-spacing:0.35px;transform:scale(0.84,0.92);transform-origin:right 9.21px;-webkit-text-stroke:0.25px #1c1c1c;">0,3%</div>
<div class="t" style="right:107.84999999999991px;top:526.82px;font-size:11px;line-height:12.65px;color:#1c1c1c;font-weight:normal;font-style:normal;letter-spacing:0px;-webkit-text-stroke:0.2px #1c1c1c;">296</div>
<div class="t" style="right:72.5px;top:527.14px;font-size:10px;line-height:11.50px;color:#1c1c1c;font-weight:normal;font-style:normal;letter-spacing:0.35px;transform:scale(0.84,0.92);transform-origin:right 9.21px;-webkit-text-stroke:0.25px #1c1c1c;">0,2%</div>
<div class="t" style="right:11.799999999999955px;top:526.82px;font-size:11px;line-height:12.65px;color:#4f8a30;font-weight:normal;font-style:normal;letter-spacing:0px;transform:scaleX(0.92);transform-origin:right 0;-webkit-text-stroke:0.2px #4f8a30;">2,7%</div>
<div class="t" style="left:12.7px;top:546.50px;font-size:11px;line-height:12.65px;color:#1c1c1c;font-weight:normal;font-style:normal;letter-spacing:0.35px;transform:scaleX(0.891);transform-origin:left 0;-webkit-text-stroke:0.2px #1c1c1c;">TIERRA DEL FUEGO</div>
<div class="t" style="right:619.73px;top:546.50px;font-size:11px;line-height:12.65px;color:#1c1c1c;font-weight:normal;font-style:normal;letter-spacing:0px;-webkit-text-stroke:0.2px #1c1c1c;">44</div>
<div class="t" style="right:584.9px;top:546.82px;font-size:10px;line-height:11.50px;color:#1c1c1c;font-weight:normal;font-style:normal;letter-spacing:0.35px;transform:scale(0.84,0.92);transform-origin:right 9.21px;-webkit-text-stroke:0.25px #1c1c1c;">0,2%</div>
<div class="t" style="right:523.76px;top:546.50px;font-size:11px;line-height:12.65px;color:#1c1c1c;font-weight:normal;font-style:normal;letter-spacing:0px;-webkit-text-stroke:0.2px #1c1c1c;">59</div>
<div class="t" style="right:488.9px;top:546.82px;font-size:10px;line-height:11.50px;color:#1c1c1c;font-weight:normal;font-style:normal;letter-spacing:0.35px;transform:scale(0.84,0.92);transform-origin:right 9.21px;-webkit-text-stroke:0.25px #1c1c1c;">0,2%</div>
<div class="t" style="right:427.31px;top:546.50px;font-size:11px;line-height:12.65px;color:#1c1c1c;font-weight:normal;font-style:normal;letter-spacing:0px;-webkit-text-stroke:0.2px #1c1c1c;">62</div>
<div class="t" style="right:392.9px;top:546.82px;font-size:10px;line-height:11.50px;color:#1c1c1c;font-weight:normal;font-style:normal;letter-spacing:0.35px;transform:scale(0.84,0.92);transform-origin:right 9.21px;-webkit-text-stroke:0.25px #1c1c1c;">0,1%</div>
<div class="t" style="right:332.6px;top:546.50px;font-size:11px;line-height:12.65px;color:#9c000e;font-weight:normal;font-style:normal;letter-spacing:0px;transform:scaleX(0.92);transform-origin:right 0;-webkit-text-stroke:0.2px #9c000e;">-25,4%</div>
<div class="t" style="right:271.79999999999995px;top:546.50px;font-size:11px;line-height:12.65px;color:#9c000e;font-weight:normal;font-style:normal;letter-spacing:0px;transform:scaleX(0.92);transform-origin:right 0;-webkit-text-stroke:0.2px #9c000e;">-29,0%</div>
<div class="t" style="right:210.02999999999997px;top:546.50px;font-size:11px;line-height:12.65px;color:#1c1c1c;font-weight:normal;font-style:normal;letter-spacing:0px;-webkit-text-stroke:0.2px #1c1c1c;">184</div>
<div class="t" style="right:168.5px;top:546.82px;font-size:10px;line-height:11.50px;color:#1c1c1c;font-weight:normal;font-style:normal;letter-spacing:0.35px;transform:scale(0.84,0.92);transform-origin:right 9.21px;-webkit-text-stroke:0.25px #1c1c1c;">0,2%</div>
<div class="t" style="right:107.99000000000001px;top:546.50px;font-size:11px;line-height:12.65px;color:#1c1c1c;font-weight:normal;font-style:normal;letter-spacing:0px;-webkit-text-stroke:0.2px #1c1c1c;">170</div>
<div class="t" style="right:72.5px;top:546.82px;font-size:10px;line-height:11.50px;color:#1c1c1c;font-weight:normal;font-style:normal;letter-spacing:0.35px;transform:scale(0.84,0.92);transform-origin:right 9.21px;-webkit-text-stroke:0.25px #1c1c1c;">0,1%</div>
<div class="t" style="right:11.799999999999955px;top:546.50px;font-size:11px;line-height:12.65px;color:#4f8a30;font-weight:normal;font-style:normal;letter-spacing:0px;transform:scaleX(0.92);transform-origin:right 0;-webkit-text-stroke:0.2px #4f8a30;">8,2%</div>
<div class="t" style="left:12.7px;top:565.56px;font-size:11px;line-height:12.65px;color:#111;font-weight:bold;font-style:normal;letter-spacing:0px;transform:scaleX(0.964);transform-origin:left 0;-webkit-text-stroke:0.2px #111;">TOTAL</div>
<div class="t" style="right:621.15px;top:565.56px;font-size:11px;line-height:12.65px;color:#111;font-weight:bold;font-style:normal;letter-spacing:0.55px;">27.449</div>
<div class="t" style="right:524.8499999999999px;top:565.56px;font-size:11px;line-height:12.65px;color:#111;font-weight:bold;font-style:normal;letter-spacing:0.55px;">30.848</div>
<div class="t" style="right:429.55px;top:565.56px;font-size:11px;line-height:12.65px;color:#111;font-weight:bold;font-style:normal;letter-spacing:0.55px;">48.411</div>
<div class="t" style="right:333.0px;top:565.56px;font-size:11px;line-height:12.65px;color:#9c000e;font-weight:bold;font-style:normal;letter-spacing:0.2px;">-11,0%</div>
<div class="t" style="right:272.79999999999995px;top:565.56px;font-size:11px;line-height:12.65px;color:#9c000e;font-weight:bold;font-style:normal;letter-spacing:0.2px;">-43,3%</div>
<div class="t" style="right:211.6500000000001px;top:565.56px;font-size:11px;line-height:12.65px;color:#111;font-weight:bold;font-style:normal;letter-spacing:0.55px;">91.715</div>
<div class="t" style="right:109.05000000000007px;top:565.56px;font-size:11px;line-height:12.65px;color:#111;font-weight:bold;font-style:normal;letter-spacing:0.55px;">125.157</div>
<div class="t" style="right:12.699999999999932px;top:565.56px;font-size:11px;line-height:12.65px;color:#9c000e;font-weight:bold;font-style:normal;letter-spacing:0.2px;">-26,7%</div>
<div class="t" style="right:23.2px;top:594.5px;font-size:12.6px;color:#808080;-webkit-text-stroke:0.15px #808080;line-height:15px">Fuente: SIOMAA</div>
</body></html>
